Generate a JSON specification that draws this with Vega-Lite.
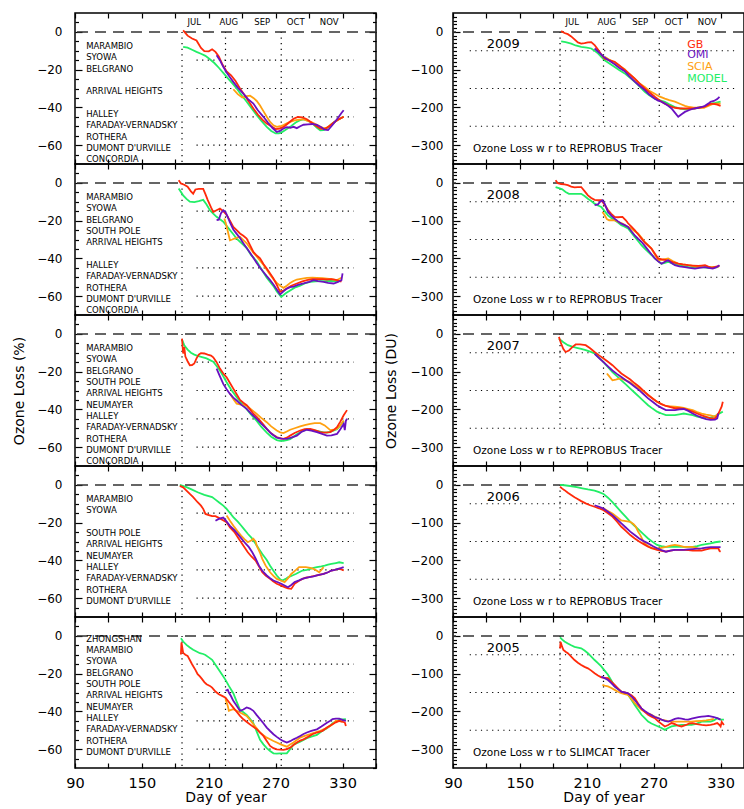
{
"$schema": "https://vega.github.io/schema/vega-lite/v6.json",
"background": "white",
"padding": {"left": 11, "top": 11, "right": 0, "bottom": 0},
"spacing": 5,
"config": {
  "view": {"stroke": "black", "strokeWidth": 1.5},
  "axis": {"domain": false, "grid": false, "tickColor": "black", "tickWidth": 1.2, "labelFont": "DejaVu Sans", "labelFontSize": 12, "labelColor": "black", "titleFont": "DejaVu Sans", "titleFontSize": 14, "titleFontWeight": "normal", "titleColor": "black", "labelOverlap": false, "labelFlush": false},
  "text": {"font": "DejaVu Sans", "color": "black"}
},
"datasets": {
  "zero": [{"value": 0}],
  "hlinesL": [{"value": -15}, {"value": -30}, {"value": -45}, {"value": -60}],
  "hlinesR": [{"value": -50}, {"value": -150}, {"value": -250}],
  "vlines": [{"day": 186}, {"day": 225}, {"day": 275}],
  "months": [{"name": "JUL", "day": 197}, {"name": "AUG", "day": 228}, {"name": "SEP", "day": 258}, {"name": "OCT", "day": 288}, {"name": "NOV", "day": 318}],
  "legend": [{"series": "GB", "value": -34}, {"series": "OMI", "value": -62}, {"series": "SCIA", "value": -93}, {"series": "MODEL", "value": -124}],
  "L2009": [
    {"series":"MODEL","day":187,"value":-8},{"series":"MODEL","day":191,"value":-8.4},{"series":"MODEL","day":195,"value":-9.5},{"series":"MODEL","day":199,"value":-10.6},{"series":"MODEL","day":203,"value":-11.6},{"series":"MODEL","day":207,"value":-12.7},{"series":"MODEL","day":211,"value":-14.5},{"series":"MODEL","day":215,"value":-16.5},{"series":"MODEL","day":219,"value":-19},{"series":"MODEL","day":223,"value":-21.7},{"series":"MODEL","day":227,"value":-24.5},{"series":"MODEL","day":231,"value":-27.2},{"series":"MODEL","day":235,"value":-30},{"series":"MODEL","day":240,"value":-34},{"series":"MODEL","day":244,"value":-37},{"series":"MODEL","day":249,"value":-41},{"series":"MODEL","day":253,"value":-44.1},{"series":"MODEL","day":257,"value":-47},{"series":"MODEL","day":262,"value":-50.3},{"series":"MODEL","day":266,"value":-52.5},{"series":"MODEL","day":270,"value":-53.8},{"series":"MODEL","day":273,"value":-53.8},{"series":"MODEL","day":276,"value":-53},{"series":"MODEL","day":280,"value":-51.5},{"series":"MODEL","day":284,"value":-49.8},{"series":"MODEL","day":288,"value":-48},{"series":"MODEL","day":292,"value":-46.8},{"series":"MODEL","day":295,"value":-46.3},{"series":"MODEL","day":299,"value":-47},{"series":"MODEL","day":303,"value":-48.6},{"series":"MODEL","day":307,"value":-50.8},{"series":"MODEL","day":310,"value":-52.1},{"series":"MODEL","day":313,"value":-52},{"series":"MODEL","day":316,"value":-51},{"series":"MODEL","day":319,"value":-49.5},{"series":"MODEL","day":322,"value":-48},{"series":"MODEL","day":326,"value":-46.5},{"series":"MODEL","day":331,"value":-45},
    {"series":"SCIA","day":232,"value":-30.4},{"series":"SCIA","day":236,"value":-33},{"series":"SCIA","day":240,"value":-34.8},{"series":"SCIA","day":244,"value":-34},{"series":"SCIA","day":247,"value":-33.8},{"series":"SCIA","day":250,"value":-35},{"series":"SCIA","day":253,"value":-36.6},{"series":"SCIA","day":256,"value":-39},{"series":"SCIA","day":259,"value":-42},{"series":"SCIA","day":262,"value":-45},{"series":"SCIA","day":265,"value":-47.7},{"series":"SCIA","day":268,"value":-49.5},{"series":"SCIA","day":271,"value":-50.3},{"series":"SCIA","day":274,"value":-50},{"series":"SCIA","day":277,"value":-49.4},{"series":"SCIA","day":280,"value":-48.5},{"series":"SCIA","day":283,"value":-47.7},{"series":"SCIA","day":287,"value":-46.9},{"series":"SCIA","day":291,"value":-46.5},{"series":"SCIA","day":295,"value":-46.3},{"series":"SCIA","day":298,"value":-47},{"series":"SCIA","day":302,"value":-47.8},{"series":"SCIA","day":306,"value":-49},{"series":"SCIA","day":310,"value":-50.3},{"series":"SCIA","day":313,"value":-51},{"series":"SCIA","day":316,"value":-50.7},{"series":"SCIA","day":319,"value":-49.5},{"series":"SCIA","day":322,"value":-48.2},{"series":"SCIA","day":326,"value":-46.5},{"series":"SCIA","day":331,"value":-45},
    {"series":"GB","day":187,"value":0.8},{"series":"GB","day":191,"value":-2},{"series":"GB","day":195,"value":-3.5},{"series":"GB","day":199,"value":-4.6},{"series":"GB","day":203,"value":-8.5},{"series":"GB","day":206,"value":-10.2},{"series":"GB","day":210,"value":-10.3},{"series":"GB","day":213,"value":-9.2},{"series":"GB","day":216,"value":-10.6},{"series":"GB","day":219,"value":-13},{"series":"GB","day":222,"value":-17},{"series":"GB","day":226,"value":-21},{"series":"GB","day":230,"value":-23},{"series":"GB","day":234,"value":-26},{"series":"GB","day":238,"value":-30},{"series":"GB","day":242,"value":-33.5},{"series":"GB","day":246,"value":-37},{"series":"GB","day":250,"value":-40.6},{"series":"GB","day":254,"value":-43.8},{"series":"GB","day":258,"value":-46.5},{"series":"GB","day":262,"value":-48.6},{"series":"GB","day":266,"value":-50},{"series":"GB","day":270,"value":-51.5},{"series":"GB","day":274,"value":-51.2},{"series":"GB","day":278,"value":-50},{"series":"GB","day":282,"value":-48},{"series":"GB","day":286,"value":-46},{"series":"GB","day":290,"value":-45},{"series":"GB","day":294,"value":-45.3},{"series":"GB","day":298,"value":-46.3},{"series":"GB","day":302,"value":-48},{"series":"GB","day":306,"value":-49.8},{"series":"GB","day":310,"value":-51.2},{"series":"GB","day":314,"value":-51.5},{"series":"GB","day":318,"value":-50},{"series":"GB","day":322,"value":-48},{"series":"GB","day":326,"value":-46.5},{"series":"GB","day":331,"value":-45},
    {"series":"OMI","day":217,"value":-12.4},{"series":"OMI","day":220,"value":-15},{"series":"OMI","day":223,"value":-18.5},{"series":"OMI","day":226,"value":-21.5},{"series":"OMI","day":229,"value":-24},{"series":"OMI","day":232,"value":-26.5},{"series":"OMI","day":236,"value":-29.5},{"series":"OMI","day":241,"value":-32.7},{"series":"OMI","day":245,"value":-35.5},{"series":"OMI","day":250,"value":-38},{"series":"OMI","day":254,"value":-41.5},{"series":"OMI","day":259,"value":-45},{"series":"OMI","day":263,"value":-48},{"series":"OMI","day":267,"value":-50.8},{"series":"OMI","day":271,"value":-53},{"series":"OMI","day":274,"value":-52.5},{"series":"OMI","day":277,"value":-51.2},{"series":"OMI","day":280,"value":-50.5},{"series":"OMI","day":283,"value":-50.8},{"series":"OMI","day":286,"value":-50.3},{"series":"OMI","day":289,"value":-51},{"series":"OMI","day":292,"value":-50},{"series":"OMI","day":295,"value":-49.2},{"series":"OMI","day":299,"value":-49},{"series":"OMI","day":303,"value":-48.8},{"series":"OMI","day":307,"value":-49.3},{"series":"OMI","day":311,"value":-50.5},{"series":"OMI","day":314,"value":-51.8},{"series":"OMI","day":317,"value":-52},{"series":"OMI","day":320,"value":-50},{"series":"OMI","day":323,"value":-47.8},{"series":"OMI","day":326,"value":-45.5},{"series":"OMI","day":329,"value":-43},{"series":"OMI","day":331,"value":-41.5}
  ],
  "R2009": [
    {"series":"MODEL","day":187,"value":-25},{"series":"MODEL","day":191,"value":-27},{"series":"MODEL","day":196,"value":-31},{"series":"MODEL","day":200,"value":-36},{"series":"MODEL","day":205,"value":-40},{"series":"MODEL","day":210,"value":-42},{"series":"MODEL","day":214,"value":-44},{"series":"MODEL","day":217,"value":-50},{"series":"MODEL","day":220,"value":-57},{"series":"MODEL","day":223,"value":-66},{"series":"MODEL","day":226,"value":-75},{"series":"MODEL","day":230,"value":-83},{"series":"MODEL","day":235,"value":-93},{"series":"MODEL","day":239,"value":-101},{"series":"MODEL","day":244,"value":-110},{"series":"MODEL","day":248,"value":-120},{"series":"MODEL","day":253,"value":-132},{"series":"MODEL","day":257,"value":-144},{"series":"MODEL","day":262,"value":-159},{"series":"MODEL","day":266,"value":-168},{"series":"MODEL","day":271,"value":-177},{"series":"MODEL","day":275,"value":-181},{"series":"MODEL","day":280,"value":-185},{"series":"MODEL","day":284,"value":-192},{"series":"MODEL","day":289,"value":-199},{"series":"MODEL","day":294,"value":-203},{"series":"MODEL","day":298,"value":-205},{"series":"MODEL","day":302,"value":-204},{"series":"MODEL","day":306,"value":-203},{"series":"MODEL","day":310,"value":-201},{"series":"MODEL","day":315,"value":-199},{"series":"MODEL","day":318,"value":-195},{"series":"MODEL","day":321,"value":-190},{"series":"MODEL","day":325,"value":-188},{"series":"MODEL","day":330,"value":-185},
    {"series":"SCIA","day":226,"value":-66},{"series":"SCIA","day":230,"value":-73},{"series":"SCIA","day":235,"value":-81},{"series":"SCIA","day":239,"value":-90},{"series":"SCIA","day":244,"value":-99},{"series":"SCIA","day":248,"value":-111},{"series":"SCIA","day":253,"value":-124},{"series":"SCIA","day":257,"value":-136},{"series":"SCIA","day":262,"value":-146},{"series":"SCIA","day":266,"value":-156},{"series":"SCIA","day":271,"value":-164},{"series":"SCIA","day":275,"value":-171},{"series":"SCIA","day":280,"value":-177},{"series":"SCIA","day":284,"value":-181},{"series":"SCIA","day":289,"value":-185},{"series":"SCIA","day":294,"value":-191},{"series":"SCIA","day":298,"value":-196},{"series":"SCIA","day":302,"value":-199},{"series":"SCIA","day":306,"value":-201},{"series":"SCIA","day":310,"value":-201},{"series":"SCIA","day":315,"value":-201},{"series":"SCIA","day":319,"value":-196},{"series":"SCIA","day":322,"value":-192},{"series":"SCIA","day":325,"value":-190},{"series":"SCIA","day":330,"value":-190},
    {"series":"GB","day":187,"value":2},{"series":"GB","day":190,"value":-3},{"series":"GB","day":193,"value":-6},{"series":"GB","day":196,"value":-12},{"series":"GB","day":199,"value":-20},{"series":"GB","day":202,"value":-28},{"series":"GB","day":205,"value":-31},{"series":"GB","day":208,"value":-30},{"series":"GB","day":211,"value":-28},{"series":"GB","day":214,"value":-27},{"series":"GB","day":217,"value":-35},{"series":"GB","day":220,"value":-47},{"series":"GB","day":223,"value":-60},{"series":"GB","day":226,"value":-71},{"series":"GB","day":230,"value":-75},{"series":"GB","day":235,"value":-79},{"series":"GB","day":239,"value":-88},{"series":"GB","day":244,"value":-101},{"series":"GB","day":248,"value":-111},{"series":"GB","day":253,"value":-124},{"series":"GB","day":257,"value":-136},{"series":"GB","day":262,"value":-150},{"series":"GB","day":266,"value":-160},{"series":"GB","day":271,"value":-172},{"series":"GB","day":275,"value":-181},{"series":"GB","day":280,"value":-190},{"series":"GB","day":284,"value":-196},{"series":"GB","day":289,"value":-201},{"series":"GB","day":294,"value":-203},{"series":"GB","day":298,"value":-203},{"series":"GB","day":302,"value":-203},{"series":"GB","day":306,"value":-203},{"series":"GB","day":310,"value":-201},{"series":"GB","day":315,"value":-199},{"series":"GB","day":318,"value":-195},{"series":"GB","day":321,"value":-190},{"series":"GB","day":324,"value":-191},{"series":"GB","day":327,"value":-193},{"series":"GB","day":330,"value":-196},
    {"series":"OMI","day":217,"value":-44},{"series":"OMI","day":220,"value":-52},{"series":"OMI","day":223,"value":-60},{"series":"OMI","day":226,"value":-68},{"series":"OMI","day":230,"value":-76},{"series":"OMI","day":235,"value":-86},{"series":"OMI","day":239,"value":-95},{"series":"OMI","day":244,"value":-104},{"series":"OMI","day":248,"value":-117},{"series":"OMI","day":253,"value":-132},{"series":"OMI","day":257,"value":-142},{"series":"OMI","day":262,"value":-154},{"series":"OMI","day":266,"value":-166},{"series":"OMI","day":271,"value":-177},{"series":"OMI","day":274,"value":-182},{"series":"OMI","day":277,"value":-185},{"series":"OMI","day":280,"value":-190},{"series":"OMI","day":283,"value":-196},{"series":"OMI","day":286,"value":-203},{"series":"OMI","day":289,"value":-214},{"series":"OMI","day":292,"value":-225},{"series":"OMI","day":295,"value":-218},{"series":"OMI","day":298,"value":-212},{"series":"OMI","day":302,"value":-207},{"series":"OMI","day":306,"value":-203},{"series":"OMI","day":310,"value":-201},{"series":"OMI","day":313,"value":-199},{"series":"OMI","day":316,"value":-196},{"series":"OMI","day":319,"value":-190},{"series":"OMI","day":321,"value":-185},{"series":"OMI","day":324,"value":-183},{"series":"OMI","day":327,"value":-178},{"series":"OMI","day":329,"value":-172}
  ],
  "L2008": [
    {"series":"MODEL","day":183,"value":-3},{"series":"MODEL","day":187,"value":-6.6},{"series":"MODEL","day":190,"value":-8.5},{"series":"MODEL","day":193,"value":-10},{"series":"MODEL","day":197,"value":-10.2},{"series":"MODEL","day":201,"value":-9.7},{"series":"MODEL","day":205,"value":-9},{"series":"MODEL","day":208,"value":-11.5},{"series":"MODEL","day":211,"value":-14.5},{"series":"MODEL","day":214,"value":-16.3},{"series":"MODEL","day":217,"value":-18},{"series":"MODEL","day":220,"value":-19.3},{"series":"MODEL","day":223,"value":-20.6},{"series":"MODEL","day":226,"value":-22.8},{"series":"MODEL","day":229,"value":-25},{"series":"MODEL","day":232,"value":-27.2},{"series":"MODEL","day":235,"value":-29.5},{"series":"MODEL","day":240,"value":-32.3},{"series":"MODEL","day":244,"value":-34.5},{"series":"MODEL","day":248,"value":-38.3},{"series":"MODEL","day":253,"value":-41.5},{"series":"MODEL","day":257,"value":-45.5},{"series":"MODEL","day":262,"value":-50.3},{"series":"MODEL","day":265,"value":-52.5},{"series":"MODEL","day":268,"value":-54.7},{"series":"MODEL","day":271,"value":-57.5},{"series":"MODEL","day":275,"value":-60.4},{"series":"MODEL","day":279,"value":-58.5},{"series":"MODEL","day":283,"value":-57},{"series":"MODEL","day":287,"value":-55.5},{"series":"MODEL","day":292,"value":-54.4},{"series":"MODEL","day":296,"value":-53.3},{"series":"MODEL","day":301,"value":-52.4},{"series":"MODEL","day":306,"value":-52.2},{"series":"MODEL","day":310,"value":-52},{"series":"MODEL","day":315,"value":-52},{"series":"MODEL","day":319,"value":-51.9},{"series":"MODEL","day":324,"value":-52},{"series":"MODEL","day":328,"value":-52},
    {"series":"SCIA","day":224,"value":-18.9},{"series":"SCIA","day":226,"value":-23},{"series":"SCIA","day":228,"value":-28},{"series":"SCIA","day":229,"value":-30.4},{"series":"SCIA","day":231,"value":-30},{"series":"SCIA","day":234,"value":-29.3},{"series":"SCIA","day":238,"value":-28.6},{"series":"SCIA","day":241,"value":-30.3},{"series":"SCIA","day":244,"value":-32},{"series":"SCIA","day":247,"value":-34.5},{"series":"SCIA","day":250,"value":-37},{"series":"SCIA","day":253,"value":-39},{"series":"SCIA","day":256,"value":-41.2},{"series":"SCIA","day":259,"value":-43.4},{"series":"SCIA","day":262,"value":-46},{"series":"SCIA","day":265,"value":-48.6},{"series":"SCIA","day":268,"value":-51},{"series":"SCIA","day":271,"value":-53},{"series":"SCIA","day":274,"value":-54.5},{"series":"SCIA","day":277,"value":-55.6},{"series":"SCIA","day":280,"value":-54.5},{"series":"SCIA","day":283,"value":-53},{"series":"SCIA","day":286,"value":-52},{"series":"SCIA","day":289,"value":-51.2},{"series":"SCIA","day":294,"value":-50.7},{"series":"SCIA","day":298,"value":-50.3},{"series":"SCIA","day":303,"value":-50.2},{"series":"SCIA","day":307,"value":-50.3},{"series":"SCIA","day":312,"value":-50.5},{"series":"SCIA","day":316,"value":-50.7},{"series":"SCIA","day":320,"value":-51},{"series":"SCIA","day":325,"value":-51.5},{"series":"SCIA","day":329,"value":-50.3},
    {"series":"GB","day":183,"value":1.4},{"series":"GB","day":185,"value":-0.3},{"series":"GB","day":188,"value":-1},{"series":"GB","day":191,"value":-2},{"series":"GB","day":194,"value":-4.5},{"series":"GB","day":196,"value":-5.7},{"series":"GB","day":198,"value":-3.5},{"series":"GB","day":201,"value":-3.2},{"series":"GB","day":205,"value":-3.2},{"series":"GB","day":207,"value":-6},{"series":"GB","day":209,"value":-9},{"series":"GB","day":212,"value":-13},{"series":"GB","day":214,"value":-15.4},{"series":"GB","day":217,"value":-14.5},{"series":"GB","day":220,"value":-13.6},{"series":"GB","day":223,"value":-15},{"series":"GB","day":226,"value":-17},{"series":"GB","day":229,"value":-20},{"series":"GB","day":232,"value":-23.3},{"series":"GB","day":235,"value":-25},{"series":"GB","day":238,"value":-26.8},{"series":"GB","day":241,"value":-28},{"series":"GB","day":244,"value":-29.5},{"series":"GB","day":247,"value":-33},{"series":"GB","day":250,"value":-36.6},{"series":"GB","day":253,"value":-38.5},{"series":"GB","day":256,"value":-40},{"series":"GB","day":259,"value":-43},{"series":"GB","day":262,"value":-45.4},{"series":"GB","day":265,"value":-48},{"series":"GB","day":268,"value":-50.7},{"series":"GB","day":271,"value":-54},{"series":"GB","day":274,"value":-57.7},{"series":"GB","day":277,"value":-57},{"series":"GB","day":280,"value":-56},{"series":"GB","day":284,"value":-54.5},{"series":"GB","day":289,"value":-53.3},{"series":"GB","day":294,"value":-52.2},{"series":"GB","day":298,"value":-51.5},{"series":"GB","day":303,"value":-51},{"series":"GB","day":307,"value":-51},{"series":"GB","day":312,"value":-51},{"series":"GB","day":316,"value":-51.2},{"series":"GB","day":320,"value":-51},{"series":"GB","day":325,"value":-51.5},{"series":"GB","day":329,"value":-52.4},
    {"series":"OMI","day":217,"value":-19.8},{"series":"OMI","day":219,"value":-19.5},{"series":"OMI","day":221,"value":-16},{"series":"OMI","day":223,"value":-14.5},{"series":"OMI","day":225,"value":-15.5},{"series":"OMI","day":227,"value":-18},{"series":"OMI","day":229,"value":-21},{"series":"OMI","day":232,"value":-24.7},{"series":"OMI","day":235,"value":-27},{"series":"OMI","day":238,"value":-29.2},{"series":"OMI","day":241,"value":-32},{"series":"OMI","day":244,"value":-34.5},{"series":"OMI","day":247,"value":-37},{"series":"OMI","day":250,"value":-39.7},{"series":"OMI","day":253,"value":-42.5},{"series":"OMI","day":256,"value":-45},{"series":"OMI","day":259,"value":-47.2},{"series":"OMI","day":262,"value":-49.4},{"series":"OMI","day":265,"value":-51.5},{"series":"OMI","day":268,"value":-53.8},{"series":"OMI","day":271,"value":-56.5},{"series":"OMI","day":274,"value":-59.1},{"series":"OMI","day":277,"value":-57.5},{"series":"OMI","day":280,"value":-56},{"series":"OMI","day":283,"value":-55.2},{"series":"OMI","day":286,"value":-55},{"series":"OMI","day":290,"value":-54},{"series":"OMI","day":295,"value":-53.3},{"series":"OMI","day":300,"value":-52.4},{"series":"OMI","day":304,"value":-51.5},{"series":"OMI","day":308,"value":-52},{"series":"OMI","day":313,"value":-52.4},{"series":"OMI","day":317,"value":-53},{"series":"OMI","day":322,"value":-53.3},{"series":"OMI","day":326,"value":-52.5},{"series":"OMI","day":329,"value":-51.5},{"series":"OMI","day":330,"value":-48}
  ],
  "R2008": [
    {"series":"MODEL","day":182,"value":-11},{"series":"MODEL","day":185,"value":-14},{"series":"MODEL","day":188,"value":-17},{"series":"MODEL","day":191,"value":-24},{"series":"MODEL","day":194,"value":-29},{"series":"MODEL","day":199,"value":-29},{"series":"MODEL","day":205,"value":-29},{"series":"MODEL","day":208,"value":-35},{"series":"MODEL","day":211,"value":-42},{"series":"MODEL","day":214,"value":-48},{"series":"MODEL","day":217,"value":-55},{"series":"MODEL","day":220,"value":-60},{"series":"MODEL","day":223,"value":-64},{"series":"MODEL","day":226,"value":-75},{"series":"MODEL","day":229,"value":-86},{"series":"MODEL","day":232,"value":-93},{"series":"MODEL","day":235,"value":-99},{"series":"MODEL","day":238,"value":-105},{"series":"MODEL","day":241,"value":-112},{"series":"MODEL","day":244,"value":-116},{"series":"MODEL","day":247,"value":-121},{"series":"MODEL","day":250,"value":-132},{"series":"MODEL","day":253,"value":-143},{"series":"MODEL","day":256,"value":-154},{"series":"MODEL","day":259,"value":-165},{"series":"MODEL","day":262,"value":-174},{"series":"MODEL","day":265,"value":-183},{"series":"MODEL","day":268,"value":-191},{"series":"MODEL","day":271,"value":-200},{"series":"MODEL","day":274,"value":-207},{"series":"MODEL","day":277,"value":-214},{"series":"MODEL","day":280,"value":-212},{"series":"MODEL","day":283,"value":-209},{"series":"MODEL","day":287,"value":-214},{"series":"MODEL","day":292,"value":-218},{"series":"MODEL","day":296,"value":-220},{"series":"MODEL","day":301,"value":-223},{"series":"MODEL","day":305,"value":-223},{"series":"MODEL","day":310,"value":-223},{"series":"MODEL","day":315,"value":-224},{"series":"MODEL","day":319,"value":-225},{"series":"MODEL","day":323,"value":-224},{"series":"MODEL","day":328,"value":-223},
    {"series":"SCIA","day":224,"value":-77},{"series":"SCIA","day":226,"value":-85},{"series":"SCIA","day":228,"value":-96},{"series":"SCIA","day":230,"value":-99},{"series":"SCIA","day":235,"value":-99},{"series":"SCIA","day":238,"value":-103},{"series":"SCIA","day":242,"value":-108},{"series":"SCIA","day":246,"value":-115},{"series":"SCIA","day":250,"value":-121},{"series":"SCIA","day":253,"value":-128},{"series":"SCIA","day":256,"value":-134},{"series":"SCIA","day":259,"value":-145},{"series":"SCIA","day":262,"value":-156},{"series":"SCIA","day":265,"value":-165},{"series":"SCIA","day":268,"value":-174},{"series":"SCIA","day":271,"value":-190},{"series":"SCIA","day":274,"value":-205},{"series":"SCIA","day":278,"value":-203},{"series":"SCIA","day":283,"value":-200},{"series":"SCIA","day":287,"value":-207},{"series":"SCIA","day":292,"value":-214},{"series":"SCIA","day":296,"value":-216},{"series":"SCIA","day":301,"value":-218},{"series":"SCIA","day":305,"value":-220},{"series":"SCIA","day":310,"value":-223},{"series":"SCIA","day":315,"value":-223},{"series":"SCIA","day":319,"value":-223},{"series":"SCIA","day":323,"value":-223},{"series":"SCIA","day":328,"value":-223},
    {"series":"GB","day":182,"value":7},{"series":"GB","day":184,"value":-1},{"series":"GB","day":187,"value":-3},{"series":"GB","day":190,"value":-4},{"series":"GB","day":193,"value":-6},{"series":"GB","day":196,"value":-10},{"series":"GB","day":199,"value":-12},{"series":"GB","day":202,"value":-11},{"series":"GB","day":205,"value":-11},{"series":"GB","day":208,"value":-22},{"series":"GB","day":211,"value":-33},{"series":"GB","day":214,"value":-40},{"series":"GB","day":217,"value":-45},{"series":"GB","day":220,"value":-46},{"series":"GB","day":223,"value":-46},{"series":"GB","day":226,"value":-58},{"series":"GB","day":229,"value":-72},{"series":"GB","day":232,"value":-82},{"series":"GB","day":235,"value":-90},{"series":"GB","day":238,"value":-91},{"series":"GB","day":242,"value":-90},{"series":"GB","day":245,"value":-99},{"series":"GB","day":247,"value":-107},{"series":"GB","day":250,"value":-116},{"series":"GB","day":253,"value":-125},{"series":"GB","day":256,"value":-136},{"series":"GB","day":259,"value":-147},{"series":"GB","day":262,"value":-158},{"series":"GB","day":265,"value":-166},{"series":"GB","day":268,"value":-174},{"series":"GB","day":271,"value":-187},{"series":"GB","day":274,"value":-200},{"series":"GB","day":278,"value":-203},{"series":"GB","day":283,"value":-205},{"series":"GB","day":287,"value":-210},{"series":"GB","day":292,"value":-214},{"series":"GB","day":296,"value":-216},{"series":"GB","day":301,"value":-218},{"series":"GB","day":305,"value":-219},{"series":"GB","day":310,"value":-220},{"series":"GB","day":313,"value":-219},{"series":"GB","day":316,"value":-218},{"series":"GB","day":319,"value":-222},{"series":"GB","day":322,"value":-225},{"series":"GB","day":326,"value":-222},{"series":"GB","day":329,"value":-220},
    {"series":"OMI","day":217,"value":-59},{"series":"OMI","day":220,"value":-57},{"series":"OMI","day":222,"value":-50},{"series":"OMI","day":224,"value":-46},{"series":"OMI","day":226,"value":-55},{"series":"OMI","day":229,"value":-77},{"series":"OMI","day":232,"value":-87},{"series":"OMI","day":235,"value":-95},{"series":"OMI","day":238,"value":-102},{"series":"OMI","day":241,"value":-108},{"series":"OMI","day":244,"value":-112},{"series":"OMI","day":247,"value":-117},{"series":"OMI","day":250,"value":-128},{"series":"OMI","day":253,"value":-139},{"series":"OMI","day":256,"value":-148},{"series":"OMI","day":259,"value":-156},{"series":"OMI","day":262,"value":-167},{"series":"OMI","day":265,"value":-178},{"series":"OMI","day":268,"value":-189},{"series":"OMI","day":271,"value":-200},{"series":"OMI","day":274,"value":-208},{"series":"OMI","day":277,"value":-214},{"series":"OMI","day":280,"value":-209},{"series":"OMI","day":283,"value":-205},{"series":"OMI","day":286,"value":-212},{"series":"OMI","day":289,"value":-218},{"series":"OMI","day":293,"value":-221},{"series":"OMI","day":298,"value":-223},{"series":"OMI","day":302,"value":-225},{"series":"OMI","day":307,"value":-227},{"series":"OMI","day":311,"value":-225},{"series":"OMI","day":316,"value":-223},{"series":"OMI","day":319,"value":-225},{"series":"OMI","day":323,"value":-227},{"series":"OMI","day":326,"value":-224},{"series":"OMI","day":329,"value":-218}
  ],
  "L2007": [
    {"series":"MODEL","day":186,"value":-3},{"series":"MODEL","day":188,"value":-6},{"series":"MODEL","day":191,"value":-8.3},{"series":"MODEL","day":194,"value":-10},{"series":"MODEL","day":197,"value":-11},{"series":"MODEL","day":200,"value":-11.6},{"series":"MODEL","day":204,"value":-12.3},{"series":"MODEL","day":208,"value":-13},{"series":"MODEL","day":211,"value":-13.9},{"series":"MODEL","day":214,"value":-14.8},{"series":"MODEL","day":217,"value":-17},{"series":"MODEL","day":220,"value":-19.4},{"series":"MODEL","day":223,"value":-22.5},{"series":"MODEL","day":226,"value":-25.6},{"series":"MODEL","day":230,"value":-29.5},{"series":"MODEL","day":235,"value":-33.6},{"series":"MODEL","day":239,"value":-36.5},{"series":"MODEL","day":244,"value":-39.9},{"series":"MODEL","day":248,"value":-42.8},{"series":"MODEL","day":253,"value":-46.1},{"series":"MODEL","day":257,"value":-49.2},{"series":"MODEL","day":262,"value":-52.3},{"series":"MODEL","day":266,"value":-54.5},{"series":"MODEL","day":271,"value":-56.3},{"series":"MODEL","day":274,"value":-56.7},{"series":"MODEL","day":277,"value":-56.7},{"series":"MODEL","day":280,"value":-56.3},{"series":"MODEL","day":283,"value":-55.8},{"series":"MODEL","day":286,"value":-54.5},{"series":"MODEL","day":289,"value":-53.2},{"series":"MODEL","day":294,"value":-51.5},{"series":"MODEL","day":298,"value":-50.5},{"series":"MODEL","day":303,"value":-51},{"series":"MODEL","day":307,"value":-51.4},{"series":"MODEL","day":312,"value":-52},{"series":"MODEL","day":316,"value":-52.3},{"series":"MODEL","day":320,"value":-51.7},{"series":"MODEL","day":325,"value":-50.5},{"series":"MODEL","day":328,"value":-48.5},{"series":"MODEL","day":331,"value":-46.1},
    {"series":"SCIA","day":229,"value":-31.6},{"series":"SCIA","day":232,"value":-34.5},{"series":"SCIA","day":235,"value":-37},{"series":"SCIA","day":239,"value":-37.5},{"series":"SCIA","day":244,"value":-38},{"series":"SCIA","day":248,"value":-40},{"series":"SCIA","day":253,"value":-42.4},{"series":"SCIA","day":257,"value":-44.5},{"series":"SCIA","day":262,"value":-46.8},{"series":"SCIA","day":266,"value":-49},{"series":"SCIA","day":271,"value":-51.2},{"series":"SCIA","day":274,"value":-52.2},{"series":"SCIA","day":277,"value":-52.6},{"series":"SCIA","day":280,"value":-51.7},{"series":"SCIA","day":283,"value":-50.8},{"series":"SCIA","day":287,"value":-50},{"series":"SCIA","day":292,"value":-49},{"series":"SCIA","day":296,"value":-48.3},{"series":"SCIA","day":301,"value":-47.7},{"series":"SCIA","day":305,"value":-47.3},{"series":"SCIA","day":310,"value":-47.3},{"series":"SCIA","day":314,"value":-48.5},{"series":"SCIA","day":319,"value":-51},{"series":"SCIA","day":322,"value":-50.8},{"series":"SCIA","day":325,"value":-50.3},{"series":"SCIA","day":328,"value":-48.5},{"series":"SCIA","day":331,"value":-45.9},
    {"series":"GB","day":186,"value":-2.5},{"series":"GB","day":187,"value":-10.4},{"series":"GB","day":188,"value":-7},{"series":"GB","day":189,"value":-12},{"series":"GB","day":191,"value":-14.5},{"series":"GB","day":193,"value":-16.6},{"series":"GB","day":195,"value":-16.5},{"series":"GB","day":197,"value":-15.7},{"series":"GB","day":199,"value":-13},{"series":"GB","day":201,"value":-11},{"series":"GB","day":203,"value":-10.2},{"series":"GB","day":206,"value":-10.4},{"series":"GB","day":209,"value":-11},{"series":"GB","day":212,"value":-11.5},{"series":"GB","day":214,"value":-12.4},{"series":"GB","day":217,"value":-15},{"series":"GB","day":220,"value":-18.4},{"series":"GB","day":223,"value":-21},{"series":"GB","day":226,"value":-23},{"series":"GB","day":229,"value":-26},{"series":"GB","day":232,"value":-29},{"series":"GB","day":235,"value":-32},{"series":"GB","day":238,"value":-35},{"series":"GB","day":241,"value":-36.5},{"series":"GB","day":244,"value":-37.8},{"series":"GB","day":247,"value":-40},{"series":"GB","day":250,"value":-42.3},{"series":"GB","day":253,"value":-44},{"series":"GB","day":256,"value":-45.9},{"series":"GB","day":259,"value":-48},{"series":"GB","day":262,"value":-50.3},{"series":"GB","day":265,"value":-52.2},{"series":"GB","day":268,"value":-53.6},{"series":"GB","day":271,"value":-54.7},{"series":"GB","day":274,"value":-55.3},{"series":"GB","day":277,"value":-55.6},{"series":"GB","day":280,"value":-55},{"series":"GB","day":283,"value":-53.9},{"series":"GB","day":287,"value":-52.5},{"series":"GB","day":292,"value":-51.2},{"series":"GB","day":296,"value":-50.5},{"series":"GB","day":301,"value":-50.3},{"series":"GB","day":305,"value":-51},{"series":"GB","day":310,"value":-52},{"series":"GB","day":314,"value":-52.3},{"series":"GB","day":319,"value":-52},{"series":"GB","day":322,"value":-51},{"series":"GB","day":325,"value":-49.4},{"series":"GB","day":328,"value":-46.5},{"series":"GB","day":331,"value":-43.1},{"series":"GB","day":334,"value":-40.4},
    {"series":"OMI","day":217,"value":-18.4},{"series":"OMI","day":220,"value":-22.5},{"series":"OMI","day":223,"value":-26.5},{"series":"OMI","day":226,"value":-29.3},{"series":"OMI","day":229,"value":-31.8},{"series":"OMI","day":232,"value":-33.8},{"series":"OMI","day":235,"value":-35.3},{"series":"OMI","day":239,"value":-37.5},{"series":"OMI","day":244,"value":-39.7},{"series":"OMI","day":248,"value":-42.3},{"series":"OMI","day":253,"value":-45},{"series":"OMI","day":257,"value":-47.5},{"series":"OMI","day":262,"value":-50.3},{"series":"OMI","day":266,"value":-52.8},{"series":"OMI","day":271,"value":-55},{"series":"OMI","day":275,"value":-55.5},{"series":"OMI","day":280,"value":-55.6},{"series":"OMI","day":284,"value":-55},{"series":"OMI","day":289,"value":-53.9},{"series":"OMI","day":293,"value":-52},{"series":"OMI","day":298,"value":-50.8},{"series":"OMI","day":302,"value":-51.2},{"series":"OMI","day":307,"value":-52},{"series":"OMI","day":311,"value":-52.8},{"series":"OMI","day":316,"value":-53.9},{"series":"OMI","day":320,"value":-53.8},{"series":"OMI","day":325,"value":-53},{"series":"OMI","day":328,"value":-50.5},{"series":"OMI","day":331,"value":-47.7},{"series":"OMI","day":332,"value":-51},{"series":"OMI","day":333,"value":-46},{"series":"OMI","day":334,"value":-45}
  ],
  "R2007": [
    {"series":"MODEL","day":185,"value":-13},{"series":"MODEL","day":189,"value":-22},{"series":"MODEL","day":193,"value":-30},{"series":"MODEL","day":197,"value":-34},{"series":"MODEL","day":201,"value":-37},{"series":"MODEL","day":205,"value":-40},{"series":"MODEL","day":209,"value":-43},{"series":"MODEL","day":213,"value":-47},{"series":"MODEL","day":217,"value":-52},{"series":"MODEL","day":221,"value":-63},{"series":"MODEL","day":225,"value":-75},{"series":"MODEL","day":229,"value":-88},{"series":"MODEL","day":233,"value":-101},{"series":"MODEL","day":237,"value":-112},{"series":"MODEL","day":241,"value":-123},{"series":"MODEL","day":245,"value":-134},{"series":"MODEL","day":249,"value":-145},{"series":"MODEL","day":253,"value":-156},{"series":"MODEL","day":257,"value":-167},{"series":"MODEL","day":261,"value":-178},{"series":"MODEL","day":265,"value":-189},{"series":"MODEL","day":269,"value":-198},{"series":"MODEL","day":273,"value":-206},{"series":"MODEL","day":277,"value":-211},{"series":"MODEL","day":281,"value":-215},{"series":"MODEL","day":285,"value":-215},{"series":"MODEL","day":289,"value":-215},{"series":"MODEL","day":293,"value":-213},{"series":"MODEL","day":297,"value":-211},{"series":"MODEL","day":301,"value":-213},{"series":"MODEL","day":305,"value":-215},{"series":"MODEL","day":309,"value":-219},{"series":"MODEL","day":313,"value":-222},{"series":"MODEL","day":317,"value":-222},{"series":"MODEL","day":321,"value":-222},{"series":"MODEL","day":325,"value":-218},{"series":"MODEL","day":329,"value":-211},{"series":"MODEL","day":332,"value":-206},
    {"series":"SCIA","day":228,"value":-105},{"series":"SCIA","day":230,"value":-112},{"series":"SCIA","day":233,"value":-123},{"series":"SCIA","day":236,"value":-121},{"series":"SCIA","day":240,"value":-118},{"series":"SCIA","day":244,"value":-122},{"series":"SCIA","day":249,"value":-128},{"series":"SCIA","day":253,"value":-137},{"series":"SCIA","day":257,"value":-145},{"series":"SCIA","day":261,"value":-153},{"series":"SCIA","day":265,"value":-162},{"series":"SCIA","day":269,"value":-171},{"series":"SCIA","day":273,"value":-180},{"series":"SCIA","day":277,"value":-186},{"series":"SCIA","day":281,"value":-191},{"series":"SCIA","day":285,"value":-192},{"series":"SCIA","day":289,"value":-193},{"series":"SCIA","day":293,"value":-194},{"series":"SCIA","day":297,"value":-196},{"series":"SCIA","day":301,"value":-199},{"series":"SCIA","day":305,"value":-202},{"series":"SCIA","day":309,"value":-207},{"series":"SCIA","day":313,"value":-211},{"series":"SCIA","day":317,"value":-214},{"series":"SCIA","day":321,"value":-216},{"series":"SCIA","day":325,"value":-219},{"series":"SCIA","day":328,"value":-211},
    {"series":"GB","day":185,"value":-8},{"series":"GB","day":187,"value":-26},{"series":"GB","day":189,"value":-40},{"series":"GB","day":191,"value":-48},{"series":"GB","day":194,"value":-44},{"series":"GB","day":197,"value":-35},{"series":"GB","day":200,"value":-28},{"series":"GB","day":204,"value":-28},{"series":"GB","day":209,"value":-30},{"series":"GB","day":213,"value":-38},{"series":"GB","day":217,"value":-48},{"series":"GB","day":221,"value":-57},{"series":"GB","day":225,"value":-65},{"series":"GB","day":229,"value":-74},{"series":"GB","day":233,"value":-83},{"series":"GB","day":237,"value":-94},{"series":"GB","day":241,"value":-105},{"series":"GB","day":245,"value":-113},{"series":"GB","day":249,"value":-121},{"series":"GB","day":253,"value":-131},{"series":"GB","day":257,"value":-140},{"series":"GB","day":261,"value":-151},{"series":"GB","day":265,"value":-162},{"series":"GB","day":269,"value":-171},{"series":"GB","day":273,"value":-180},{"series":"GB","day":277,"value":-186},{"series":"GB","day":281,"value":-191},{"series":"GB","day":285,"value":-194},{"series":"GB","day":289,"value":-197},{"series":"GB","day":293,"value":-197},{"series":"GB","day":297,"value":-198},{"series":"GB","day":301,"value":-202},{"series":"GB","day":305,"value":-206},{"series":"GB","day":309,"value":-211},{"series":"GB","day":313,"value":-216},{"series":"GB","day":317,"value":-220},{"series":"GB","day":321,"value":-224},{"series":"GB","day":325,"value":-223},{"series":"GB","day":327,"value":-218},{"series":"GB","day":329,"value":-205},{"series":"GB","day":331,"value":-192},{"series":"GB","day":332,"value":-180},
    {"series":"OMI","day":217,"value":-53},{"series":"OMI","day":221,"value":-64},{"series":"OMI","day":225,"value":-75},{"series":"OMI","day":229,"value":-86},{"series":"OMI","day":233,"value":-97},{"series":"OMI","day":237,"value":-106},{"series":"OMI","day":241,"value":-114},{"series":"OMI","day":245,"value":-123},{"series":"OMI","day":249,"value":-131},{"series":"OMI","day":253,"value":-140},{"series":"OMI","day":257,"value":-149},{"series":"OMI","day":261,"value":-160},{"series":"OMI","day":265,"value":-171},{"series":"OMI","day":269,"value":-180},{"series":"OMI","day":273,"value":-189},{"series":"OMI","day":277,"value":-196},{"series":"OMI","day":281,"value":-202},{"series":"OMI","day":285,"value":-202},{"series":"OMI","day":289,"value":-202},{"series":"OMI","day":293,"value":-200},{"series":"OMI","day":297,"value":-199},{"series":"OMI","day":301,"value":-204},{"series":"OMI","day":305,"value":-211},{"series":"OMI","day":309,"value":-217},{"series":"OMI","day":313,"value":-222},{"series":"OMI","day":317,"value":-226},{"series":"OMI","day":321,"value":-228},{"series":"OMI","day":325,"value":-227},{"series":"OMI","day":327,"value":-224},{"series":"OMI","day":328,"value":-211}
  ],
  "L2006": [
    {"series":"MODEL","day":184,"value":0},{"series":"MODEL","day":190,"value":-1.2},{"series":"MODEL","day":195,"value":-2.5},{"series":"MODEL","day":200,"value":-3.9},{"series":"MODEL","day":206,"value":-5.3},{"series":"MODEL","day":213,"value":-6.5},{"series":"MODEL","day":216,"value":-7.8},{"series":"MODEL","day":219,"value":-9.2},{"series":"MODEL","day":223,"value":-11},{"series":"MODEL","day":226,"value":-12.7},{"series":"MODEL","day":229,"value":-14.9},{"series":"MODEL","day":232,"value":-17.1},{"series":"MODEL","day":236,"value":-19.5},{"series":"MODEL","day":239,"value":-21.5},{"series":"MODEL","day":242,"value":-23.7},{"series":"MODEL","day":245,"value":-25.9},{"series":"MODEL","day":249,"value":-28.5},{"series":"MODEL","day":252,"value":-31.2},{"series":"MODEL","day":255,"value":-34},{"series":"MODEL","day":258,"value":-36.6},{"series":"MODEL","day":262,"value":-39.8},{"series":"MODEL","day":265,"value":-42.8},{"series":"MODEL","day":268,"value":-45.5},{"series":"MODEL","day":271,"value":-48},{"series":"MODEL","day":274,"value":-50},{"series":"MODEL","day":276,"value":-50.7},{"series":"MODEL","day":279,"value":-49.8},{"series":"MODEL","day":281,"value":-49},{"series":"MODEL","day":285,"value":-48},{"series":"MODEL","day":288,"value":-47.2},{"series":"MODEL","day":291,"value":-46.3},{"series":"MODEL","day":294,"value":-45.4},{"series":"MODEL","day":298,"value":-45},{"series":"MODEL","day":301,"value":-44.5},{"series":"MODEL","day":304,"value":-44},{"series":"MODEL","day":307,"value":-43.6},{"series":"MODEL","day":311,"value":-43.2},{"series":"MODEL","day":314,"value":-42.8},{"series":"MODEL","day":317,"value":-42.3},{"series":"MODEL","day":320,"value":-41.9},{"series":"MODEL","day":324,"value":-41.4},{"series":"MODEL","day":327,"value":-41},{"series":"MODEL","day":331,"value":-41.4},
    {"series":"SCIA","day":226,"value":-16.2},{"series":"SCIA","day":229,"value":-19},{"series":"SCIA","day":233,"value":-22.4},{"series":"SCIA","day":236,"value":-24.7},{"series":"SCIA","day":239,"value":-26.9},{"series":"SCIA","day":242,"value":-28.7},{"series":"SCIA","day":245,"value":-30.4},{"series":"SCIA","day":248,"value":-29.5},{"series":"SCIA","day":250,"value":-28.6},{"series":"SCIA","day":252,"value":-30},{"series":"SCIA","day":253,"value":-32.2},{"series":"SCIA","day":256,"value":-36},{"series":"SCIA","day":258,"value":-39.2},{"series":"SCIA","day":261,"value":-42.8},{"series":"SCIA","day":265,"value":-46.3},{"series":"SCIA","day":268,"value":-48.2},{"series":"SCIA","day":271,"value":-49.8},{"series":"SCIA","day":275,"value":-50.8},{"series":"SCIA","day":278,"value":-51.5},{"series":"SCIA","day":281,"value":-49.5},{"series":"SCIA","day":284,"value":-47.2},{"series":"SCIA","day":288,"value":-45.2},{"series":"SCIA","day":291,"value":-43.6},{"series":"SCIA","day":294,"value":-43.6},{"series":"SCIA","day":297,"value":-43.6},{"series":"SCIA","day":301,"value":-44},{"series":"SCIA","day":304,"value":-44.5},{"series":"SCIA","day":307,"value":-45.5},{"series":"SCIA","day":309,"value":-46.3},{"series":"SCIA","day":311,"value":-45},{"series":"SCIA","day":313,"value":-43.6},
    {"series":"GB","day":184,"value":-0.5},{"series":"GB","day":187,"value":-1.3},{"series":"GB","day":190,"value":-3},{"series":"GB","day":193,"value":-4.8},{"series":"GB","day":196,"value":-6.5},{"series":"GB","day":200,"value":-9.2},{"series":"GB","day":203,"value":-11},{"series":"GB","day":205,"value":-12.7},{"series":"GB","day":207,"value":-15.4},{"series":"GB","day":210,"value":-16},{"series":"GB","day":213,"value":-16.6},{"series":"GB","day":216,"value":-16.6},{"series":"GB","day":219,"value":-17.5},{"series":"GB","day":222,"value":-18.5},{"series":"GB","day":226,"value":-19.8},{"series":"GB","day":229,"value":-22.5},{"series":"GB","day":233,"value":-25},{"series":"GB","day":236,"value":-27.7},{"series":"GB","day":239,"value":-30.4},{"series":"GB","day":242,"value":-33},{"series":"GB","day":245,"value":-35.7},{"series":"GB","day":248,"value":-37.8},{"series":"GB","day":252,"value":-40.1},{"series":"GB","day":255,"value":-43.2},{"series":"GB","day":258,"value":-46.3},{"series":"GB","day":261,"value":-48},{"series":"GB","day":265,"value":-49.8},{"series":"GB","day":268,"value":-51.2},{"series":"GB","day":271,"value":-52.4},{"series":"GB","day":275,"value":-53.4},{"series":"GB","day":278,"value":-54.2},{"series":"GB","day":281,"value":-54.8},{"series":"GB","day":284,"value":-55.1},{"series":"GB","day":287,"value":-52.4},{"series":"GB","day":291,"value":-50.8},{"series":"GB","day":294,"value":-49.8},{"series":"GB","day":297,"value":-49.2},{"series":"GB","day":300,"value":-48.9},{"series":"GB","day":304,"value":-48.4},{"series":"GB","day":307,"value":-48},{"series":"GB","day":310,"value":-47.6},{"series":"GB","day":313,"value":-47.2},{"series":"GB","day":317,"value":-46.3},{"series":"GB","day":320,"value":-45.4},{"series":"GB","day":323,"value":-45},{"series":"GB","day":326,"value":-44.5},{"series":"GB","day":329,"value":-44.8},{"series":"GB","day":331,"value":-45.4},
    {"series":"OMI","day":216,"value":-19},{"series":"OMI","day":219,"value":-18},{"series":"OMI","day":223,"value":-17.3},{"series":"OMI","day":226,"value":-19.5},{"series":"OMI","day":229,"value":-21.7},{"series":"OMI","day":233,"value":-24},{"series":"OMI","day":236,"value":-26.1},{"series":"OMI","day":239,"value":-28.2},{"series":"OMI","day":242,"value":-30.4},{"series":"OMI","day":246,"value":-33},{"series":"OMI","day":249,"value":-35.7},{"series":"OMI","day":252,"value":-39},{"series":"OMI","day":255,"value":-42.8},{"series":"OMI","day":258,"value":-45.5},{"series":"OMI","day":262,"value":-48},{"series":"OMI","day":265,"value":-49.5},{"series":"OMI","day":268,"value":-50.7},{"series":"OMI","day":272,"value":-51.6},{"series":"OMI","day":275,"value":-52.4},{"series":"OMI","day":278,"value":-53.3},{"series":"OMI","day":281,"value":-54.2},{"series":"OMI","day":284,"value":-53},{"series":"OMI","day":287,"value":-51.5},{"series":"OMI","day":291,"value":-50.6},{"series":"OMI","day":294,"value":-49.8},{"series":"OMI","day":297,"value":-49.3},{"series":"OMI","day":300,"value":-48.9},{"series":"OMI","day":304,"value":-48.5},{"series":"OMI","day":307,"value":-48},{"series":"OMI","day":310,"value":-47.6},{"series":"OMI","day":313,"value":-47.2},{"series":"OMI","day":317,"value":-46.3},{"series":"OMI","day":320,"value":-45.4},{"series":"OMI","day":323,"value":-45},{"series":"OMI","day":326,"value":-44.5},{"series":"OMI","day":329,"value":-44},{"series":"OMI","day":331,"value":-43.6}
  ],
  "R2006": [
    {"series":"MODEL","day":186,"value":0},{"series":"MODEL","day":190,"value":-1},{"series":"MODEL","day":195,"value":-3},{"series":"MODEL","day":201,"value":-6},{"series":"MODEL","day":206,"value":-9},{"series":"MODEL","day":211,"value":-12},{"series":"MODEL","day":217,"value":-15},{"series":"MODEL","day":221,"value":-19},{"series":"MODEL","day":225,"value":-24},{"series":"MODEL","day":229,"value":-34},{"series":"MODEL","day":233,"value":-46},{"series":"MODEL","day":237,"value":-59},{"series":"MODEL","day":241,"value":-72},{"series":"MODEL","day":245,"value":-85},{"series":"MODEL","day":249,"value":-98},{"series":"MODEL","day":253,"value":-109},{"series":"MODEL","day":257,"value":-120},{"series":"MODEL","day":261,"value":-131},{"series":"MODEL","day":265,"value":-142},{"series":"MODEL","day":269,"value":-151},{"series":"MODEL","day":273,"value":-159},{"series":"MODEL","day":277,"value":-162},{"series":"MODEL","day":281,"value":-164},{"series":"MODEL","day":285,"value":-164},{"series":"MODEL","day":289,"value":-164},{"series":"MODEL","day":293,"value":-164},{"series":"MODEL","day":297,"value":-164},{"series":"MODEL","day":301,"value":-164},{"series":"MODEL","day":305,"value":-164},{"series":"MODEL","day":309,"value":-162},{"series":"MODEL","day":313,"value":-159},{"series":"MODEL","day":317,"value":-157},{"series":"MODEL","day":321,"value":-155},{"series":"MODEL","day":325,"value":-152},{"series":"MODEL","day":330,"value":-150},
    {"series":"SCIA","day":225,"value":-63},{"series":"SCIA","day":229,"value":-69},{"series":"SCIA","day":233,"value":-76},{"series":"SCIA","day":237,"value":-85},{"series":"SCIA","day":241,"value":-94},{"series":"SCIA","day":245,"value":-96},{"series":"SCIA","day":249,"value":-98},{"series":"SCIA","day":252,"value":-104},{"series":"SCIA","day":254,"value":-111},{"series":"SCIA","day":256,"value":-124},{"series":"SCIA","day":258,"value":-133},{"series":"SCIA","day":260,"value":-145},{"series":"SCIA","day":262,"value":-155},{"series":"SCIA","day":265,"value":-162},{"series":"SCIA","day":268,"value":-168},{"series":"SCIA","day":272,"value":-168},{"series":"SCIA","day":275,"value":-168},{"series":"SCIA","day":278,"value":-166},{"series":"SCIA","day":281,"value":-164},{"series":"SCIA","day":285,"value":-161},{"series":"SCIA","day":289,"value":-159},{"series":"SCIA","day":293,"value":-161},{"series":"SCIA","day":297,"value":-164},{"series":"SCIA","day":301,"value":-164},{"series":"SCIA","day":305,"value":-164},{"series":"SCIA","day":309,"value":-168},{"series":"SCIA","day":312,"value":-172},
    {"series":"GB","day":186,"value":-5},{"series":"GB","day":188,"value":-10},{"series":"GB","day":190,"value":-14},{"series":"GB","day":193,"value":-21},{"series":"GB","day":196,"value":-27},{"series":"GB","day":199,"value":-33},{"series":"GB","day":201,"value":-36},{"series":"GB","day":205,"value":-43},{"series":"GB","day":209,"value":-49},{"series":"GB","day":213,"value":-54},{"series":"GB","day":217,"value":-58},{"series":"GB","day":221,"value":-62},{"series":"GB","day":225,"value":-67},{"series":"GB","day":229,"value":-75},{"series":"GB","day":233,"value":-84},{"series":"GB","day":237,"value":-97},{"series":"GB","day":241,"value":-111},{"series":"GB","day":245,"value":-122},{"series":"GB","day":249,"value":-133},{"series":"GB","day":253,"value":-142},{"series":"GB","day":257,"value":-150},{"series":"GB","day":261,"value":-157},{"series":"GB","day":265,"value":-164},{"series":"GB","day":269,"value":-168},{"series":"GB","day":273,"value":-172},{"series":"GB","day":277,"value":-175},{"series":"GB","day":281,"value":-177},{"series":"GB","day":285,"value":-174},{"series":"GB","day":289,"value":-172},{"series":"GB","day":293,"value":-172},{"series":"GB","day":297,"value":-172},{"series":"GB","day":301,"value":-173},{"series":"GB","day":305,"value":-174},{"series":"GB","day":309,"value":-174},{"series":"GB","day":313,"value":-174},{"series":"GB","day":317,"value":-171},{"series":"GB","day":321,"value":-168},{"series":"GB","day":325,"value":-168},{"series":"GB","day":328,"value":-168},{"series":"GB","day":329,"value":-175},{"series":"GB","day":330,"value":-177},
    {"series":"OMI","day":217,"value":-54},{"series":"OMI","day":221,"value":-58},{"series":"OMI","day":225,"value":-63},{"series":"OMI","day":229,"value":-71},{"series":"OMI","day":233,"value":-80},{"series":"OMI","day":237,"value":-91},{"series":"OMI","day":241,"value":-102},{"series":"OMI","day":245,"value":-113},{"series":"OMI","day":249,"value":-124},{"series":"OMI","day":253,"value":-133},{"series":"OMI","day":257,"value":-142},{"series":"OMI","day":261,"value":-149},{"series":"OMI","day":265,"value":-155},{"series":"OMI","day":269,"value":-162},{"series":"OMI","day":273,"value":-168},{"series":"OMI","day":277,"value":-173},{"series":"OMI","day":281,"value":-177},{"series":"OMI","day":285,"value":-174},{"series":"OMI","day":289,"value":-172},{"series":"OMI","day":293,"value":-172},{"series":"OMI","day":297,"value":-172},{"series":"OMI","day":301,"value":-171},{"series":"OMI","day":305,"value":-170},{"series":"OMI","day":309,"value":-169},{"series":"OMI","day":313,"value":-168},{"series":"OMI","day":317,"value":-166},{"series":"OMI","day":321,"value":-165},{"series":"OMI","day":325,"value":-165},{"series":"OMI","day":330,"value":-165}
  ],
  "L2005": [
    {"series":"MODEL","day":185,"value":-1.2},{"series":"MODEL","day":187,"value":-3},{"series":"MODEL","day":190,"value":-4.8},{"series":"MODEL","day":193,"value":-6.2},{"series":"MODEL","day":196,"value":-7.4},{"series":"MODEL","day":199,"value":-8.3},{"series":"MODEL","day":202,"value":-9.2},{"series":"MODEL","day":205,"value":-9.6},{"series":"MODEL","day":207,"value":-10.1},{"series":"MODEL","day":210,"value":-11.4},{"series":"MODEL","day":213,"value":-12.7},{"series":"MODEL","day":216,"value":-15.3},{"series":"MODEL","day":219,"value":-18},{"series":"MODEL","day":222,"value":-20.6},{"series":"MODEL","day":225,"value":-23.3},{"series":"MODEL","day":228,"value":-26.5},{"series":"MODEL","day":232,"value":-30.4},{"series":"MODEL","day":235,"value":-34.8},{"series":"MODEL","day":238,"value":-39.2},{"series":"MODEL","day":241,"value":-40.5},{"series":"MODEL","day":244,"value":-41.9},{"series":"MODEL","day":247,"value":-44},{"series":"MODEL","day":250,"value":-46.3},{"series":"MODEL","day":253,"value":-50.7},{"series":"MODEL","day":256,"value":-55.1},{"series":"MODEL","day":259,"value":-57.5},{"series":"MODEL","day":262,"value":-59.5},{"series":"MODEL","day":265,"value":-61},{"series":"MODEL","day":268,"value":-62.2},{"series":"MODEL","day":271,"value":-62.4},{"series":"MODEL","day":274,"value":-62.2},{"series":"MODEL","day":277,"value":-62.2},{"series":"MODEL","day":280,"value":-62.2},{"series":"MODEL","day":283,"value":-60},{"series":"MODEL","day":286,"value":-57.7},{"series":"MODEL","day":289,"value":-56.8},{"series":"MODEL","day":292,"value":-56},{"series":"MODEL","day":295,"value":-55.1},{"series":"MODEL","day":298,"value":-54.2},{"series":"MODEL","day":302,"value":-53.4},{"series":"MODEL","day":307,"value":-52.5},{"series":"MODEL","day":311,"value":-50.7},{"series":"MODEL","day":316,"value":-48.9},{"series":"MODEL","day":319,"value":-47.5},{"series":"MODEL","day":321,"value":-46.3},{"series":"MODEL","day":324,"value":-45.4},{"series":"MODEL","day":327,"value":-44.5},{"series":"MODEL","day":330,"value":-44.2},{"series":"MODEL","day":333,"value":-44.1},
    {"series":"SCIA","day":225,"value":-33.5},{"series":"SCIA","day":227,"value":-37},{"series":"SCIA","day":228,"value":-39.7},{"series":"SCIA","day":230,"value":-39.2},{"series":"SCIA","day":232,"value":-38.8},{"series":"SCIA","day":235,"value":-39.7},{"series":"SCIA","day":238,"value":-40.6},{"series":"SCIA","day":241,"value":-41.5},{"series":"SCIA","day":244,"value":-42.4},{"series":"SCIA","day":247,"value":-44.6},{"series":"SCIA","day":250,"value":-46.8},{"series":"SCIA","day":253,"value":-49},{"series":"SCIA","day":256,"value":-51.2},{"series":"SCIA","day":259,"value":-52.6},{"series":"SCIA","day":262,"value":-53.9},{"series":"SCIA","day":265,"value":-54.8},{"series":"SCIA","day":268,"value":-55.7},{"series":"SCIA","day":271,"value":-56.5},{"series":"SCIA","day":275,"value":-57.6},{"series":"SCIA","day":280,"value":-58.7},{"series":"SCIA","day":283,"value":-57.6},{"series":"SCIA","day":286,"value":-56.5},{"series":"SCIA","day":289,"value":-55.2},{"series":"SCIA","day":292,"value":-53.9},{"series":"SCIA","day":296,"value":-53},{"series":"SCIA","day":301,"value":-52.1},{"series":"SCIA","day":305,"value":-51.2},{"series":"SCIA","day":310,"value":-50.3},{"series":"SCIA","day":315,"value":-49},{"series":"SCIA","day":319,"value":-47.7},{"series":"SCIA","day":322,"value":-46.3},{"series":"SCIA","day":324,"value":-45},{"series":"SCIA","day":327,"value":-45.2},{"series":"SCIA","day":330,"value":-45.5},
    {"series":"GB","day":185,"value":-9.9},{"series":"GB","day":185.5,"value":-3.5},{"series":"GB","day":187,"value":-9},{"series":"GB","day":189,"value":-10},{"series":"GB","day":191,"value":-10.6},{"series":"GB","day":193,"value":-12.8},{"series":"GB","day":195,"value":-15},{"series":"GB","day":198,"value":-18},{"series":"GB","day":200,"value":-20.3},{"series":"GB","day":202,"value":-21.5},{"series":"GB","day":204,"value":-22.9},{"series":"GB","day":206,"value":-24.5},{"series":"GB","day":208,"value":-25.6},{"series":"GB","day":211,"value":-26.5},{"series":"GB","day":213,"value":-27.4},{"series":"GB","day":216,"value":-29.5},{"series":"GB","day":219,"value":-30.9},{"series":"GB","day":222,"value":-31.8},{"series":"GB","day":225,"value":-32.7},{"series":"GB","day":228,"value":-35},{"series":"GB","day":232,"value":-38},{"series":"GB","day":235,"value":-40.2},{"series":"GB","day":238,"value":-42.4},{"series":"GB","day":241,"value":-44.2},{"series":"GB","day":245,"value":-46},{"series":"GB","day":249,"value":-47.8},{"series":"GB","day":253,"value":-49.4},{"series":"GB","day":256,"value":-51.2},{"series":"GB","day":259,"value":-53},{"series":"GB","day":262,"value":-55.7},{"series":"GB","day":265,"value":-58.3},{"series":"GB","day":268,"value":-59.5},{"series":"GB","day":271,"value":-60.1},{"series":"GB","day":274,"value":-60.3},{"series":"GB","day":277,"value":-60.4},{"series":"GB","day":280,"value":-60},{"series":"GB","day":283,"value":-59.2},{"series":"GB","day":286,"value":-57.8},{"series":"GB","day":289,"value":-56.5},{"series":"GB","day":292,"value":-55.5},{"series":"GB","day":295,"value":-54.8},{"series":"GB","day":299,"value":-53.5},{"series":"GB","day":303,"value":-52.1},{"series":"GB","day":307,"value":-51.2},{"series":"GB","day":312,"value":-50.3},{"series":"GB","day":316,"value":-48.5},{"series":"GB","day":321,"value":-46.8},{"series":"GB","day":324,"value":-45.8},{"series":"GB","day":327,"value":-45},{"series":"GB","day":330,"value":-45.5},{"series":"GB","day":332,"value":-45.9},{"series":"GB","day":333,"value":-47.7},
    {"series":"OMI","day":225,"value":-29.1},{"series":"OMI","day":227,"value":-28.5},{"series":"OMI","day":228,"value":-30},{"series":"OMI","day":230,"value":-32},{"series":"OMI","day":232,"value":-34.4},{"series":"OMI","day":235,"value":-37},{"series":"OMI","day":238,"value":-39.7},{"series":"OMI","day":241,"value":-39},{"series":"OMI","day":244,"value":-37.9},{"series":"OMI","day":247,"value":-38.5},{"series":"OMI","day":250,"value":-39.7},{"series":"OMI","day":253,"value":-42},{"series":"OMI","day":256,"value":-44.1},{"series":"OMI","day":259,"value":-46.3},{"series":"OMI","day":262,"value":-48.6},{"series":"OMI","day":265,"value":-50.4},{"series":"OMI","day":268,"value":-52.1},{"series":"OMI","day":271,"value":-53.5},{"series":"OMI","day":274,"value":-54.8},{"series":"OMI","day":277,"value":-55.8},{"series":"OMI","day":280,"value":-56.5},{"series":"OMI","day":283,"value":-55.8},{"series":"OMI","day":286,"value":-54.8},{"series":"OMI","day":289,"value":-54},{"series":"OMI","day":292,"value":-53},{"series":"OMI","day":295,"value":-52},{"series":"OMI","day":298,"value":-51.2},{"series":"OMI","day":302,"value":-50.3},{"series":"OMI","day":307,"value":-49.5},{"series":"OMI","day":311,"value":-48},{"series":"OMI","day":316,"value":-46},{"series":"OMI","day":319,"value":-45},{"series":"OMI","day":321,"value":-44.1},{"series":"OMI","day":324,"value":-43.8},{"series":"OMI","day":327,"value":-43.8},{"series":"OMI","day":330,"value":-44.5},{"series":"OMI","day":333,"value":-45}
  ],
  "R2005": [
    {"series":"MODEL","day":186,"value":-4},{"series":"MODEL","day":188,"value":-10},{"series":"MODEL","day":190,"value":-15},{"series":"MODEL","day":193,"value":-20},{"series":"MODEL","day":196,"value":-25},{"series":"MODEL","day":199,"value":-29},{"series":"MODEL","day":202,"value":-31},{"series":"MODEL","day":205,"value":-33},{"series":"MODEL","day":208,"value":-39},{"series":"MODEL","day":211,"value":-46},{"series":"MODEL","day":214,"value":-55},{"series":"MODEL","day":217,"value":-64},{"series":"MODEL","day":220,"value":-72},{"series":"MODEL","day":223,"value":-81},{"series":"MODEL","day":226,"value":-92},{"series":"MODEL","day":229,"value":-103},{"series":"MODEL","day":232,"value":-118},{"series":"MODEL","day":235,"value":-134},{"series":"MODEL","day":238,"value":-141},{"series":"MODEL","day":241,"value":-148},{"series":"MODEL","day":244,"value":-152},{"series":"MODEL","day":247,"value":-156},{"series":"MODEL","day":250,"value":-169},{"series":"MODEL","day":253,"value":-183},{"series":"MODEL","day":256,"value":-196},{"series":"MODEL","day":259,"value":-209},{"series":"MODEL","day":262,"value":-218},{"series":"MODEL","day":265,"value":-227},{"series":"MODEL","day":268,"value":-232},{"series":"MODEL","day":271,"value":-236},{"series":"MODEL","day":274,"value":-240},{"series":"MODEL","day":277,"value":-244},{"series":"MODEL","day":280,"value":-249},{"series":"MODEL","day":283,"value":-244},{"series":"MODEL","day":286,"value":-240},{"series":"MODEL","day":290,"value":-238},{"series":"MODEL","day":295,"value":-236},{"series":"MODEL","day":299,"value":-236},{"series":"MODEL","day":304,"value":-236},{"series":"MODEL","day":308,"value":-233},{"series":"MODEL","day":313,"value":-227},{"series":"MODEL","day":317,"value":-227},{"series":"MODEL","day":321,"value":-227},{"series":"MODEL","day":324,"value":-224},{"series":"MODEL","day":327,"value":-218},{"series":"MODEL","day":330,"value":-222},{"series":"MODEL","day":333,"value":-222},
    {"series":"SCIA","day":224,"value":-130},{"series":"SCIA","day":226,"value":-132},{"series":"SCIA","day":229,"value":-134},{"series":"SCIA","day":232,"value":-138},{"series":"SCIA","day":235,"value":-143},{"series":"SCIA","day":238,"value":-148},{"series":"SCIA","day":241,"value":-152},{"series":"SCIA","day":244,"value":-154},{"series":"SCIA","day":247,"value":-156},{"series":"SCIA","day":250,"value":-167},{"series":"SCIA","day":253,"value":-178},{"series":"SCIA","day":256,"value":-187},{"series":"SCIA","day":259,"value":-196},{"series":"SCIA","day":262,"value":-201},{"series":"SCIA","day":265,"value":-205},{"series":"SCIA","day":268,"value":-209},{"series":"SCIA","day":271,"value":-214},{"series":"SCIA","day":274,"value":-218},{"series":"SCIA","day":277,"value":-222},{"series":"SCIA","day":280,"value":-224},{"series":"SCIA","day":283,"value":-226},{"series":"SCIA","day":286,"value":-227},{"series":"SCIA","day":290,"value":-227},{"series":"SCIA","day":295,"value":-227},{"series":"SCIA","day":299,"value":-227},{"series":"SCIA","day":304,"value":-227},{"series":"SCIA","day":308,"value":-226},{"series":"SCIA","day":313,"value":-225},{"series":"SCIA","day":317,"value":-224},{"series":"SCIA","day":321,"value":-222},{"series":"SCIA","day":324,"value":-220},
    {"series":"GB","day":186,"value":-33},{"series":"GB","day":186.5,"value":-16},{"series":"GB","day":188,"value":-30},{"series":"GB","day":189,"value":-37},{"series":"GB","day":191,"value":-42},{"series":"GB","day":193,"value":-46},{"series":"GB","day":196,"value":-55},{"series":"GB","day":199,"value":-64},{"series":"GB","day":202,"value":-71},{"series":"GB","day":205,"value":-77},{"series":"GB","day":208,"value":-82},{"series":"GB","day":211,"value":-86},{"series":"GB","day":214,"value":-92},{"series":"GB","day":217,"value":-99},{"series":"GB","day":220,"value":-105},{"series":"GB","day":223,"value":-110},{"series":"GB","day":226,"value":-111},{"series":"GB","day":229,"value":-112},{"series":"GB","day":232,"value":-121},{"series":"GB","day":235,"value":-130},{"series":"GB","day":238,"value":-139},{"series":"GB","day":241,"value":-148},{"series":"GB","day":244,"value":-150},{"series":"GB","day":247,"value":-152},{"series":"GB","day":250,"value":-157},{"series":"GB","day":253,"value":-165},{"series":"GB","day":256,"value":-179},{"series":"GB","day":259,"value":-192},{"series":"GB","day":262,"value":-201},{"series":"GB","day":265,"value":-209},{"series":"GB","day":268,"value":-214},{"series":"GB","day":271,"value":-218},{"series":"GB","day":274,"value":-226},{"series":"GB","day":277,"value":-233},{"series":"GB","day":280,"value":-240},{"series":"GB","day":283,"value":-236},{"series":"GB","day":286,"value":-231},{"series":"GB","day":289,"value":-234},{"series":"GB","day":292,"value":-238},{"series":"GB","day":295,"value":-240},{"series":"GB","day":299,"value":-236},{"series":"GB","day":302,"value":-232},{"series":"GB","day":305,"value":-231},{"series":"GB","day":309,"value":-234},{"series":"GB","day":313,"value":-236},{"series":"GB","day":317,"value":-237},{"series":"GB","day":321,"value":-236},{"series":"GB","day":324,"value":-234},{"series":"GB","day":327,"value":-231},{"series":"GB","day":329,"value":-236},{"series":"GB","day":330,"value":-240},{"series":"GB","day":331,"value":-228},{"series":"GB","day":333,"value":-236},
    {"series":"OMI","day":223,"value":-108},{"series":"OMI","day":226,"value":-112},{"series":"OMI","day":229,"value":-117},{"series":"OMI","day":232,"value":-125},{"series":"OMI","day":235,"value":-134},{"series":"OMI","day":238,"value":-141},{"series":"OMI","day":241,"value":-148},{"series":"OMI","day":244,"value":-150},{"series":"OMI","day":247,"value":-152},{"series":"OMI","day":250,"value":-160},{"series":"OMI","day":253,"value":-170},{"series":"OMI","day":256,"value":-181},{"series":"OMI","day":259,"value":-192},{"series":"OMI","day":262,"value":-199},{"series":"OMI","day":265,"value":-205},{"series":"OMI","day":268,"value":-210},{"series":"OMI","day":271,"value":-215},{"series":"OMI","day":274,"value":-218},{"series":"OMI","day":277,"value":-222},{"series":"OMI","day":280,"value":-225},{"series":"OMI","day":283,"value":-227},{"series":"OMI","day":286,"value":-224},{"series":"OMI","day":289,"value":-220},{"series":"OMI","day":292,"value":-218},{"series":"OMI","day":295,"value":-219},{"series":"OMI","day":298,"value":-221},{"series":"OMI","day":301,"value":-222},{"series":"OMI","day":304,"value":-219},{"series":"OMI","day":307,"value":-217},{"series":"OMI","day":310,"value":-215},{"series":"OMI","day":313,"value":-214},{"series":"OMI","day":316,"value":-213},{"series":"OMI","day":319,"value":-212},{"series":"OMI","day":321,"value":-213},{"series":"OMI","day":324,"value":-215},{"series":"OMI","day":327,"value":-218},{"series":"OMI","day":330,"value":-222}
  ]
},
"hconcat": [
  {"bounds": "flush", "spacing": 0, "vconcat": [
    {"width": 301, "height": 151, "resolve": {"axis": {"x": "independent", "y": "independent"}},
     "layer": [
      {"data": {"name": "hlinesL"}, "mark": {"type": "rule", "strokeDash": [1.2, 4.4], "strokeWidth": 1.2, "color": "black"},
       "encoding": {"x": {"datum": 199, "type": "quantitative", "scale": {"domain": [90, 360], "nice": false, "zero": false}, "axis": {"orient": "top", "values": [90,120,150,180,210,240,270,300,330,360], "tickSize": -5, "labels": false, "title": null}}, "x2": {"datum": 340},
                    "y": {"field": "value", "type": "quantitative", "scale": {"domain": [-70, 10], "nice": false, "zero": false}, "axis": {"orient": "right", "values": [10,5,0,-5,-10,-15,-20,-25,-30,-35,-40,-45,-50,-55,-60,-65,-70], "tickSize": {"condition": {"test": "datum.value % 20 === 0", "value": -7}, "value": -3.5}, "labels": false, "title": null}}}},
      {"data": {"name": "vlines"}, "mark": {"type": "rule", "strokeDash": [1.2, 4.4], "strokeWidth": 1.2, "color": "black"},
       "encoding": {"x": {"field": "day", "type": "quantitative", "scale": {"domain": [90, 360], "nice": false, "zero": false}, "axis": null}, "y": {"datum": 0, "type": "quantitative", "scale": {"domain": [-70, 10], "nice": false, "zero": false}, "axis": null}, "y2": {"datum": -70}}},
      {"data": {"name": "zero"}, "mark": {"type": "rule", "strokeDash": [11, 7], "strokeWidth": 1.5, "color": "#333"},
       "encoding": {"y": {"field": "value", "type": "quantitative", "scale": {"domain": [-70, 10], "nice": false, "zero": false}, "axis": null}}},
      {"data": {"values": [{"name": "MARAMBIO", "value": -7.5}, {"name": "SYOWA", "value": -13.5}, {"name": "BELGRANO", "value": -19.5}, {"name": "ARRIVAL HEIGHTS", "value": -31.5}, {"name": "HALLEY", "value": -43.5}, {"name": "FARADAY-VERNADSKY", "value": -49.5}, {"name": "ROTHERA", "value": -55.5}, {"name": "DUMONT D'URVILLE", "value": -61.5}, {"name": "CONÇORDIA", "value": -67.5}]},
       "mark": {"type": "text", "align": "left", "baseline": "middle", "fontSize": 8.5},
       "encoding": {"x": {"datum": 100, "type": "quantitative", "scale": {"domain": [90, 360], "nice": false, "zero": false}, "axis": null}, "y": {"field": "value", "type": "quantitative", "scale": {"domain": [-70, 10], "nice": false, "zero": false}, "axis": null}, "text": {"field": "name"}}},
      {"data": {"name": "months"}, "mark": {"type": "text", "align": "center", "baseline": "middle", "fontSize": 8.5},
       "encoding": {"x": {"field": "day", "type": "quantitative", "scale": {"domain": [90, 360], "nice": false, "zero": false}, "axis": null}, "y": {"datum": 5.3, "type": "quantitative", "scale": {"domain": [-70, 10], "nice": false, "zero": false}, "axis": null}, "text": {"field": "name"}}},
      {"data": {"name": "L2009"}, "mark": {"type": "line", "strokeWidth": 1.8},
       "encoding": {"x": {"field": "day", "type": "quantitative", "scale": {"domain": [90, 360], "nice": false, "zero": false}, "axis": {"orient": "bottom", "values": [90,120,150,180,210,240,270,300,330,360], "tickSize": -5, "labels": false, "title": null}},
                    "y": {"field": "value", "type": "quantitative", "scale": {"domain": [-70, 10], "nice": false, "zero": false}, "axis": {"orient": "left", "values": [5,0,-5,-10,-15,-20,-25,-30,-35,-40,-45,-50,-55,-60,-65], "tickSize": {"condition": {"test": "datum.value % 20 === 0", "value": -7}, "value": -3.5}, "labelFontSize": {"condition": {"test": "datum.value % 20 === 0", "value": 12}, "value": 1}, "labelExpr": "datum.value % 20 === 0 ? datum.label : ''", "labelPadding": 20, "title": null}},
                    "color": {"field": "series", "type": "nominal", "scale": {"domain": ["GB", "OMI", "SCIA", "MODEL"], "range": ["#FF2A0A", "#6A10C0", "#FFA010", "#22EE66"]}, "legend": null}}}
     ]},
    {"width": 301, "height": 151, "resolve": {"axis": {"x": "independent", "y": "independent"}},
     "layer": [
      {"data": {"name": "hlinesL"}, "mark": {"type": "rule", "strokeDash": [1.2, 4.4], "strokeWidth": 1.2, "color": "black"},
       "encoding": {"x": {"datum": 199, "type": "quantitative", "scale": {"domain": [90, 360], "nice": false, "zero": false}, "axis": {"orient": "top", "values": [90,120,150,180,210,240,270,300,330,360], "tickSize": -5, "labels": false, "title": null}}, "x2": {"datum": 340},
                    "y": {"field": "value", "type": "quantitative", "scale": {"domain": [-70, 10], "nice": false, "zero": false}, "axis": {"orient": "right", "values": [10,5,0,-5,-10,-15,-20,-25,-30,-35,-40,-45,-50,-55,-60,-65,-70], "tickSize": {"condition": {"test": "datum.value % 20 === 0", "value": -7}, "value": -3.5}, "labels": false, "title": null}}}},
      {"data": {"name": "vlines"}, "mark": {"type": "rule", "strokeDash": [1.2, 4.4], "strokeWidth": 1.2, "color": "black"},
       "encoding": {"x": {"field": "day", "type": "quantitative", "scale": {"domain": [90, 360], "nice": false, "zero": false}, "axis": null}, "y": {"datum": 0, "type": "quantitative", "scale": {"domain": [-70, 10], "nice": false, "zero": false}, "axis": null}, "y2": {"datum": -70}}},
      {"data": {"name": "zero"}, "mark": {"type": "rule", "strokeDash": [11, 7], "strokeWidth": 1.5, "color": "#333"},
       "encoding": {"y": {"field": "value", "type": "quantitative", "scale": {"domain": [-70, 10], "nice": false, "zero": false}, "axis": null}}},
      {"data": {"values": [{"name": "MARAMBIO", "value": -7.5}, {"name": "SYOWA", "value": -13.5}, {"name": "BELGRANO", "value": -19.5}, {"name": "SOUTH POLE", "value": -25.5}, {"name": "ARRIVAL HEIGHTS", "value": -31.5}, {"name": "HALLEY", "value": -43.5}, {"name": "FARADAY-VERNADSKY", "value": -49.5}, {"name": "ROTHERA", "value": -55.5}, {"name": "DUMONT D'URVILLE", "value": -61.5}, {"name": "CONÇORDIA", "value": -67.5}]},
       "mark": {"type": "text", "align": "left", "baseline": "middle", "fontSize": 8.5},
       "encoding": {"x": {"datum": 100, "type": "quantitative", "scale": {"domain": [90, 360], "nice": false, "zero": false}, "axis": null}, "y": {"field": "value", "type": "quantitative", "scale": {"domain": [-70, 10], "nice": false, "zero": false}, "axis": null}, "text": {"field": "name"}}},
      {"data": {"name": "L2008"}, "mark": {"type": "line", "strokeWidth": 1.8},
       "encoding": {"x": {"field": "day", "type": "quantitative", "scale": {"domain": [90, 360], "nice": false, "zero": false}, "axis": {"orient": "bottom", "values": [90,120,150,180,210,240,270,300,330,360], "tickSize": -5, "labels": false, "title": null}},
                    "y": {"field": "value", "type": "quantitative", "scale": {"domain": [-70, 10], "nice": false, "zero": false}, "axis": {"orient": "left", "values": [5,0,-5,-10,-15,-20,-25,-30,-35,-40,-45,-50,-55,-60,-65], "tickSize": {"condition": {"test": "datum.value % 20 === 0", "value": -7}, "value": -3.5}, "labelFontSize": {"condition": {"test": "datum.value % 20 === 0", "value": 12}, "value": 1}, "labelExpr": "datum.value % 20 === 0 ? datum.label : ''", "labelPadding": 20, "title": null}},
                    "color": {"field": "series", "type": "nominal", "scale": {"domain": ["GB", "OMI", "SCIA", "MODEL"], "range": ["#FF2A0A", "#6A10C0", "#FFA010", "#22EE66"]}, "legend": null}}}
     ]},
    {"width": 301, "height": 151, "resolve": {"axis": {"x": "independent", "y": "independent"}},
     "layer": [
      {"data": {"name": "hlinesL"}, "mark": {"type": "rule", "strokeDash": [1.2, 4.4], "strokeWidth": 1.2, "color": "black"},
       "encoding": {"x": {"datum": 199, "type": "quantitative", "scale": {"domain": [90, 360], "nice": false, "zero": false}, "axis": {"orient": "top", "values": [90,120,150,180,210,240,270,300,330,360], "tickSize": -5, "labels": false, "title": null}}, "x2": {"datum": 340},
                    "y": {"field": "value", "type": "quantitative", "scale": {"domain": [-70, 10], "nice": false, "zero": false}, "axis": {"orient": "right", "values": [10,5,0,-5,-10,-15,-20,-25,-30,-35,-40,-45,-50,-55,-60,-65,-70], "tickSize": {"condition": {"test": "datum.value % 20 === 0", "value": -7}, "value": -3.5}, "labels": false, "title": null}}}},
      {"data": {"name": "vlines"}, "mark": {"type": "rule", "strokeDash": [1.2, 4.4], "strokeWidth": 1.2, "color": "black"},
       "encoding": {"x": {"field": "day", "type": "quantitative", "scale": {"domain": [90, 360], "nice": false, "zero": false}, "axis": null}, "y": {"datum": 0, "type": "quantitative", "scale": {"domain": [-70, 10], "nice": false, "zero": false}, "axis": null}, "y2": {"datum": -70}}},
      {"data": {"name": "zero"}, "mark": {"type": "rule", "strokeDash": [11, 7], "strokeWidth": 1.5, "color": "#333"},
       "encoding": {"y": {"field": "value", "type": "quantitative", "scale": {"domain": [-70, 10], "nice": false, "zero": false}, "axis": null}}},
      {"data": {"values": [{"name": "MARAMBIO", "value": -7.5}, {"name": "SYOWA", "value": -13.5}, {"name": "BELGRANO", "value": -19.5}, {"name": "SOUTH POLE", "value": -25.5}, {"name": "ARRIVAL HEIGHTS", "value": -31.5}, {"name": "NEUMAYER", "value": -37.5}, {"name": "HALLEY", "value": -43.5}, {"name": "FARADAY-VERNADSKY", "value": -49.5}, {"name": "ROTHERA", "value": -55.5}, {"name": "DUMONT D'URVILLE", "value": -61.5}, {"name": "CONÇORDIA", "value": -67.5}]},
       "mark": {"type": "text", "align": "left", "baseline": "middle", "fontSize": 8.5},
       "encoding": {"x": {"datum": 100, "type": "quantitative", "scale": {"domain": [90, 360], "nice": false, "zero": false}, "axis": null}, "y": {"field": "value", "type": "quantitative", "scale": {"domain": [-70, 10], "nice": false, "zero": false}, "axis": null}, "text": {"field": "name"}}},
      {"data": {"name": "L2007"}, "mark": {"type": "line", "strokeWidth": 1.8},
       "encoding": {"x": {"field": "day", "type": "quantitative", "scale": {"domain": [90, 360], "nice": false, "zero": false}, "axis": {"orient": "bottom", "values": [90,120,150,180,210,240,270,300,330,360], "tickSize": -5, "labels": false, "title": null}},
                    "y": {"field": "value", "type": "quantitative", "scale": {"domain": [-70, 10], "nice": false, "zero": false}, "axis": {"orient": "left", "values": [5,0,-5,-10,-15,-20,-25,-30,-35,-40,-45,-50,-55,-60,-65], "tickSize": {"condition": {"test": "datum.value % 20 === 0", "value": -7}, "value": -3.5}, "labelFontSize": {"condition": {"test": "datum.value % 20 === 0", "value": 12}, "value": 1}, "labelExpr": "datum.value % 20 === 0 ? datum.label : ''", "labelPadding": 20, "title": "Ozone Loss (%)", "titlePadding": 10}},
                    "color": {"field": "series", "type": "nominal", "scale": {"domain": ["GB", "OMI", "SCIA", "MODEL"], "range": ["#FF2A0A", "#6A10C0", "#FFA010", "#22EE66"]}, "legend": null}}}
     ]},
    {"width": 301, "height": 151, "resolve": {"axis": {"x": "independent", "y": "independent"}},
     "layer": [
      {"data": {"name": "hlinesL"}, "mark": {"type": "rule", "strokeDash": [1.2, 4.4], "strokeWidth": 1.2, "color": "black"},
       "encoding": {"x": {"datum": 199, "type": "quantitative", "scale": {"domain": [90, 360], "nice": false, "zero": false}, "axis": {"orient": "top", "values": [90,120,150,180,210,240,270,300,330,360], "tickSize": -5, "labels": false, "title": null}}, "x2": {"datum": 340},
                    "y": {"field": "value", "type": "quantitative", "scale": {"domain": [-70, 10], "nice": false, "zero": false}, "axis": {"orient": "right", "values": [10,5,0,-5,-10,-15,-20,-25,-30,-35,-40,-45,-50,-55,-60,-65,-70], "tickSize": {"condition": {"test": "datum.value % 20 === 0", "value": -7}, "value": -3.5}, "labels": false, "title": null}}}},
      {"data": {"name": "vlines"}, "mark": {"type": "rule", "strokeDash": [1.2, 4.4], "strokeWidth": 1.2, "color": "black"},
       "encoding": {"x": {"field": "day", "type": "quantitative", "scale": {"domain": [90, 360], "nice": false, "zero": false}, "axis": null}, "y": {"datum": 0, "type": "quantitative", "scale": {"domain": [-70, 10], "nice": false, "zero": false}, "axis": null}, "y2": {"datum": -70}}},
      {"data": {"name": "zero"}, "mark": {"type": "rule", "strokeDash": [11, 7], "strokeWidth": 1.5, "color": "#333"},
       "encoding": {"y": {"field": "value", "type": "quantitative", "scale": {"domain": [-70, 10], "nice": false, "zero": false}, "axis": null}}},
      {"data": {"values": [{"name": "MARAMBIO", "value": -7.5}, {"name": "SYOWA", "value": -13.5}, {"name": "SOUTH POLE", "value": -25.5}, {"name": "ARRIVAL HEIGHTS", "value": -31.5}, {"name": "NEUMAYER", "value": -37.5}, {"name": "HALLEY", "value": -43.5}, {"name": "FARADAY-VERNADSKY", "value": -49.5}, {"name": "ROTHERA", "value": -55.5}, {"name": "DUMONT D'URVILLE", "value": -61.5}]},
       "mark": {"type": "text", "align": "left", "baseline": "middle", "fontSize": 8.5},
       "encoding": {"x": {"datum": 100, "type": "quantitative", "scale": {"domain": [90, 360], "nice": false, "zero": false}, "axis": null}, "y": {"field": "value", "type": "quantitative", "scale": {"domain": [-70, 10], "nice": false, "zero": false}, "axis": null}, "text": {"field": "name"}}},
      {"data": {"name": "L2006"}, "mark": {"type": "line", "strokeWidth": 1.8},
       "encoding": {"x": {"field": "day", "type": "quantitative", "scale": {"domain": [90, 360], "nice": false, "zero": false}, "axis": {"orient": "bottom", "values": [90,120,150,180,210,240,270,300,330,360], "tickSize": -5, "labels": false, "title": null}},
                    "y": {"field": "value", "type": "quantitative", "scale": {"domain": [-70, 10], "nice": false, "zero": false}, "axis": {"orient": "left", "values": [5,0,-5,-10,-15,-20,-25,-30,-35,-40,-45,-50,-55,-60,-65], "tickSize": {"condition": {"test": "datum.value % 20 === 0", "value": -7}, "value": -3.5}, "labelFontSize": {"condition": {"test": "datum.value % 20 === 0", "value": 12}, "value": 1}, "labelExpr": "datum.value % 20 === 0 ? datum.label : ''", "labelPadding": 20, "title": null}},
                    "color": {"field": "series", "type": "nominal", "scale": {"domain": ["GB", "OMI", "SCIA", "MODEL"], "range": ["#FF2A0A", "#6A10C0", "#FFA010", "#22EE66"]}, "legend": null}}}
     ]},
    {"width": 301, "height": 151, "resolve": {"axis": {"x": "independent", "y": "independent"}},
     "layer": [
      {"data": {"name": "hlinesL"}, "mark": {"type": "rule", "strokeDash": [1.2, 4.4], "strokeWidth": 1.2, "color": "black"},
       "encoding": {"x": {"datum": 199, "type": "quantitative", "scale": {"domain": [90, 360], "nice": false, "zero": false}, "axis": {"orient": "top", "values": [90,120,150,180,210,240,270,300,330,360], "tickSize": -5, "labels": false, "title": null}}, "x2": {"datum": 340},
                    "y": {"field": "value", "type": "quantitative", "scale": {"domain": [-70, 10], "nice": false, "zero": false}, "axis": {"orient": "right", "values": [10,5,0,-5,-10,-15,-20,-25,-30,-35,-40,-45,-50,-55,-60,-65,-70], "tickSize": {"condition": {"test": "datum.value % 20 === 0", "value": -7}, "value": -3.5}, "labels": false, "title": null}}}},
      {"data": {"name": "vlines"}, "mark": {"type": "rule", "strokeDash": [1.2, 4.4], "strokeWidth": 1.2, "color": "black"},
       "encoding": {"x": {"field": "day", "type": "quantitative", "scale": {"domain": [90, 360], "nice": false, "zero": false}, "axis": null}, "y": {"datum": 0, "type": "quantitative", "scale": {"domain": [-70, 10], "nice": false, "zero": false}, "axis": null}, "y2": {"datum": -70}}},
      {"data": {"name": "zero"}, "mark": {"type": "rule", "strokeDash": [11, 7], "strokeWidth": 1.5, "color": "#333"},
       "encoding": {"y": {"field": "value", "type": "quantitative", "scale": {"domain": [-70, 10], "nice": false, "zero": false}, "axis": null}}},
      {"data": {"values": [{"name": "ZHONGSHAN", "value": -1.5}, {"name": "MARAMBIO", "value": -7.5}, {"name": "SYOWA", "value": -13.5}, {"name": "BELGRANO", "value": -19.5}, {"name": "SOUTH POLE", "value": -25.5}, {"name": "ARRIVAL HEIGHTS", "value": -31.5}, {"name": "NEUMAYER", "value": -37.5}, {"name": "HALLEY", "value": -43.5}, {"name": "FARADAY-VERNADSKY", "value": -49.5}, {"name": "ROTHERA", "value": -55.5}, {"name": "DUMONT D'URVILLE", "value": -61.5}]},
       "mark": {"type": "text", "align": "left", "baseline": "middle", "fontSize": 8.5},
       "encoding": {"x": {"datum": 100, "type": "quantitative", "scale": {"domain": [90, 360], "nice": false, "zero": false}, "axis": null}, "y": {"field": "value", "type": "quantitative", "scale": {"domain": [-70, 10], "nice": false, "zero": false}, "axis": null}, "text": {"field": "name"}}},
      {"data": {"name": "L2005"}, "mark": {"type": "line", "strokeWidth": 1.8},
       "encoding": {"x": {"field": "day", "type": "quantitative", "scale": {"domain": [90, 360], "nice": false, "zero": false}, "axis": {"orient": "bottom", "values": [90,120,150,180,210,240,270,300,330,360], "tickSize": -5, "labelExpr": "(datum.value - 90) % 60 === 0 ? datum.label : ''", "labelFontSize": 14.5, "labelPadding": 13, "title": "Day of year", "titlePadding": 1}},
                    "y": {"field": "value", "type": "quantitative", "scale": {"domain": [-70, 10], "nice": false, "zero": false}, "axis": {"orient": "left", "values": [5,0,-5,-10,-15,-20,-25,-30,-35,-40,-45,-50,-55,-60,-65], "tickSize": {"condition": {"test": "datum.value % 20 === 0", "value": -7}, "value": -3.5}, "labelFontSize": {"condition": {"test": "datum.value % 20 === 0", "value": 12}, "value": 1}, "labelExpr": "datum.value % 20 === 0 ? datum.label : ''", "labelPadding": 20, "title": null}},
                    "color": {"field": "series", "type": "nominal", "scale": {"domain": ["GB", "OMI", "SCIA", "MODEL"], "range": ["#FF2A0A", "#6A10C0", "#FFA010", "#22EE66"]}, "legend": null}}}
     ]}
  ]},
  {"bounds": "flush", "spacing": 0, "vconcat": [
    {"width": 291, "height": 151, "resolve": {"axis": {"x": "independent", "y": "independent"}},
     "layer": [
      {"data": {"name": "hlinesR"}, "mark": {"type": "rule", "strokeDash": [1.2, 4.4], "strokeWidth": 1.2, "color": "black"},
       "encoding": {"x": {"datum": 105, "type": "quantitative", "scale": {"domain": [90, 351], "nice": false, "zero": false}, "axis": {"orient": "top", "values": [90,120,150,180,210,240,270,300,330], "tickSize": -5, "labels": false, "title": null}}, "x2": {"datum": 345},
                    "y": {"field": "value", "type": "quantitative", "scale": {"domain": [-350, 50], "nice": false, "zero": false}, "axis": null}}},
      {"data": {"name": "vlines"}, "mark": {"type": "rule", "strokeDash": [1.2, 4.4], "strokeWidth": 1.2, "color": "black"},
       "encoding": {"x": {"field": "day", "type": "quantitative", "scale": {"domain": [90, 351], "nice": false, "zero": false}, "axis": null}, "y": {"datum": 0, "type": "quantitative", "scale": {"domain": [-350, 50], "nice": false, "zero": false}, "axis": null}, "y2": {"datum": -250}}},
      {"data": {"name": "zero"}, "mark": {"type": "rule", "strokeDash": [11, 7], "strokeWidth": 1.5, "color": "#333"},
       "encoding": {"y": {"field": "value", "type": "quantitative", "scale": {"domain": [-350, 50], "nice": false, "zero": false}, "axis": null}}},
      {"data": {"values": [{"label": "2009"}]}, "mark": {"type": "text", "align": "center", "baseline": "middle", "fontSize": 13},
       "encoding": {"x": {"datum": 135, "type": "quantitative", "scale": {"domain": [90, 351], "nice": false, "zero": false}, "axis": null}, "y": {"datum": -32, "type": "quantitative", "scale": {"domain": [-350, 50], "nice": false, "zero": false}, "axis": null}, "text": {"field": "label"}}},
      {"data": {"values": [{"label": "Ozone Loss w r to REPROBUS Tracer"}]}, "mark": {"type": "text", "align": "left", "baseline": "middle", "fontSize": 10.5},
       "encoding": {"x": {"datum": 108, "type": "quantitative", "scale": {"domain": [90, 351], "nice": false, "zero": false}, "axis": null}, "y": {"datum": -310, "type": "quantitative", "scale": {"domain": [-350, 50], "nice": false, "zero": false}, "axis": null}, "text": {"field": "label"}}},
      {"data": {"name": "months"}, "mark": {"type": "text", "align": "center", "baseline": "middle", "fontSize": 8.5},
       "encoding": {"x": {"field": "day", "type": "quantitative", "scale": {"domain": [90, 351], "nice": false, "zero": false}, "axis": null}, "y": {"datum": 26, "type": "quantitative", "scale": {"domain": [-350, 50], "nice": false, "zero": false}, "axis": null}, "text": {"field": "name"}}},
      {"data": {"name": "legend"}, "mark": {"type": "text", "align": "left", "baseline": "middle", "fontSize": 11},
       "encoding": {"x": {"datum": 300, "type": "quantitative", "scale": {"domain": [90, 351], "nice": false, "zero": false}, "axis": null}, "y": {"field": "value", "type": "quantitative", "scale": {"domain": [-350, 50], "nice": false, "zero": false}, "axis": null}, "text": {"field": "series"}, "color": {"field": "series", "type": "nominal", "scale": {"domain": ["GB", "OMI", "SCIA", "MODEL"], "range": ["#FF2A0A", "#6A10C0", "#FFA010", "#22EE66"]}, "legend": null}}},
      {"data": {"name": "R2009"}, "mark": {"type": "line", "strokeWidth": 1.8},
       "encoding": {"x": {"field": "day", "type": "quantitative", "scale": {"domain": [90, 351], "nice": false, "zero": false}, "axis": {"orient": "bottom", "values": [90,120,150,180,210,240,270,300,330], "tickSize": -5, "labels": false, "title": null}},
                    "y": {"field": "value", "type": "quantitative", "scale": {"domain": [-350, 50], "nice": false, "zero": false}, "axis": {"orient": "left", "values": [40,30,20,10,0,-10,-20,-30,-40,-50,-60,-70,-80,-90,-100,-110,-120,-130,-140,-150,-160,-170,-180,-190,-200,-210,-220,-230,-240,-250,-260,-270,-280,-290,-300,-310,-320,-330,-340], "tickSize": {"condition": {"test": "datum.value % 100 === 0", "value": -7}, "value": -3.5}, "labelFontSize": {"condition": {"test": "datum.value % 100 === 0", "value": 12}, "value": 1}, "labelExpr": "datum.value % 100 === 0 ? datum.label : ''", "labelPadding": 17, "title": null}},
                    "color": {"field": "series", "type": "nominal", "scale": {"domain": ["GB", "OMI", "SCIA", "MODEL"], "range": ["#FF2A0A", "#6A10C0", "#FFA010", "#22EE66"]}, "legend": null}}}
     ]},
    {"width": 291, "height": 151, "resolve": {"axis": {"x": "independent", "y": "independent"}},
     "layer": [
      {"data": {"name": "hlinesR"}, "mark": {"type": "rule", "strokeDash": [1.2, 4.4], "strokeWidth": 1.2, "color": "black"},
       "encoding": {"x": {"datum": 105, "type": "quantitative", "scale": {"domain": [90, 351], "nice": false, "zero": false}, "axis": {"orient": "top", "values": [90,120,150,180,210,240,270,300,330], "tickSize": -5, "labels": false, "title": null}}, "x2": {"datum": 345},
                    "y": {"field": "value", "type": "quantitative", "scale": {"domain": [-350, 50], "nice": false, "zero": false}, "axis": null}}},
      {"data": {"name": "vlines"}, "mark": {"type": "rule", "strokeDash": [1.2, 4.4], "strokeWidth": 1.2, "color": "black"},
       "encoding": {"x": {"field": "day", "type": "quantitative", "scale": {"domain": [90, 351], "nice": false, "zero": false}, "axis": null}, "y": {"datum": 0, "type": "quantitative", "scale": {"domain": [-350, 50], "nice": false, "zero": false}, "axis": null}, "y2": {"datum": -250}}},
      {"data": {"name": "zero"}, "mark": {"type": "rule", "strokeDash": [11, 7], "strokeWidth": 1.5, "color": "#333"},
       "encoding": {"y": {"field": "value", "type": "quantitative", "scale": {"domain": [-350, 50], "nice": false, "zero": false}, "axis": null}}},
      {"data": {"values": [{"label": "2008"}]}, "mark": {"type": "text", "align": "center", "baseline": "middle", "fontSize": 13},
       "encoding": {"x": {"datum": 135, "type": "quantitative", "scale": {"domain": [90, 351], "nice": false, "zero": false}, "axis": null}, "y": {"datum": -32, "type": "quantitative", "scale": {"domain": [-350, 50], "nice": false, "zero": false}, "axis": null}, "text": {"field": "label"}}},
      {"data": {"values": [{"label": "Ozone Loss w r to REPROBUS Tracer"}]}, "mark": {"type": "text", "align": "left", "baseline": "middle", "fontSize": 10.5},
       "encoding": {"x": {"datum": 108, "type": "quantitative", "scale": {"domain": [90, 351], "nice": false, "zero": false}, "axis": null}, "y": {"datum": -310, "type": "quantitative", "scale": {"domain": [-350, 50], "nice": false, "zero": false}, "axis": null}, "text": {"field": "label"}}},
      {"data": {"name": "R2008"}, "mark": {"type": "line", "strokeWidth": 1.8},
       "encoding": {"x": {"field": "day", "type": "quantitative", "scale": {"domain": [90, 351], "nice": false, "zero": false}, "axis": {"orient": "bottom", "values": [90,120,150,180,210,240,270,300,330], "tickSize": -5, "labels": false, "title": null}},
                    "y": {"field": "value", "type": "quantitative", "scale": {"domain": [-350, 50], "nice": false, "zero": false}, "axis": {"orient": "left", "values": [40,30,20,10,0,-10,-20,-30,-40,-50,-60,-70,-80,-90,-100,-110,-120,-130,-140,-150,-160,-170,-180,-190,-200,-210,-220,-230,-240,-250,-260,-270,-280,-290,-300,-310,-320,-330,-340], "tickSize": {"condition": {"test": "datum.value % 100 === 0", "value": -7}, "value": -3.5}, "labelFontSize": {"condition": {"test": "datum.value % 100 === 0", "value": 12}, "value": 1}, "labelExpr": "datum.value % 100 === 0 ? datum.label : ''", "labelPadding": 17, "title": null}},
                    "color": {"field": "series", "type": "nominal", "scale": {"domain": ["GB", "OMI", "SCIA", "MODEL"], "range": ["#FF2A0A", "#6A10C0", "#FFA010", "#22EE66"]}, "legend": null}}}
     ]},
    {"width": 291, "height": 151, "resolve": {"axis": {"x": "independent", "y": "independent"}},
     "layer": [
      {"data": {"name": "hlinesR"}, "mark": {"type": "rule", "strokeDash": [1.2, 4.4], "strokeWidth": 1.2, "color": "black"},
       "encoding": {"x": {"datum": 105, "type": "quantitative", "scale": {"domain": [90, 351], "nice": false, "zero": false}, "axis": {"orient": "top", "values": [90,120,150,180,210,240,270,300,330], "tickSize": -5, "labels": false, "title": null}}, "x2": {"datum": 345},
                    "y": {"field": "value", "type": "quantitative", "scale": {"domain": [-350, 50], "nice": false, "zero": false}, "axis": null}}},
      {"data": {"name": "vlines"}, "mark": {"type": "rule", "strokeDash": [1.2, 4.4], "strokeWidth": 1.2, "color": "black"},
       "encoding": {"x": {"field": "day", "type": "quantitative", "scale": {"domain": [90, 351], "nice": false, "zero": false}, "axis": null}, "y": {"datum": 0, "type": "quantitative", "scale": {"domain": [-350, 50], "nice": false, "zero": false}, "axis": null}, "y2": {"datum": -250}}},
      {"data": {"name": "zero"}, "mark": {"type": "rule", "strokeDash": [11, 7], "strokeWidth": 1.5, "color": "#333"},
       "encoding": {"y": {"field": "value", "type": "quantitative", "scale": {"domain": [-350, 50], "nice": false, "zero": false}, "axis": null}}},
      {"data": {"values": [{"label": "2007"}]}, "mark": {"type": "text", "align": "center", "baseline": "middle", "fontSize": 13},
       "encoding": {"x": {"datum": 135, "type": "quantitative", "scale": {"domain": [90, 351], "nice": false, "zero": false}, "axis": null}, "y": {"datum": -32, "type": "quantitative", "scale": {"domain": [-350, 50], "nice": false, "zero": false}, "axis": null}, "text": {"field": "label"}}},
      {"data": {"values": [{"label": "Ozone Loss w r to REPROBUS Tracer"}]}, "mark": {"type": "text", "align": "left", "baseline": "middle", "fontSize": 10.5},
       "encoding": {"x": {"datum": 108, "type": "quantitative", "scale": {"domain": [90, 351], "nice": false, "zero": false}, "axis": null}, "y": {"datum": -310, "type": "quantitative", "scale": {"domain": [-350, 50], "nice": false, "zero": false}, "axis": null}, "text": {"field": "label"}}},
      {"data": {"name": "R2007"}, "mark": {"type": "line", "strokeWidth": 1.8},
       "encoding": {"x": {"field": "day", "type": "quantitative", "scale": {"domain": [90, 351], "nice": false, "zero": false}, "axis": {"orient": "bottom", "values": [90,120,150,180,210,240,270,300,330], "tickSize": -5, "labels": false, "title": null}},
                    "y": {"field": "value", "type": "quantitative", "scale": {"domain": [-350, 50], "nice": false, "zero": false}, "axis": {"orient": "left", "values": [40,30,20,10,0,-10,-20,-30,-40,-50,-60,-70,-80,-90,-100,-110,-120,-130,-140,-150,-160,-170,-180,-190,-200,-210,-220,-230,-240,-250,-260,-270,-280,-290,-300,-310,-320,-330,-340], "tickSize": {"condition": {"test": "datum.value % 100 === 0", "value": -7}, "value": -3.5}, "labelFontSize": {"condition": {"test": "datum.value % 100 === 0", "value": 12}, "value": 1}, "labelExpr": "datum.value % 100 === 0 ? datum.label : ''", "labelPadding": 17, "title": "Ozone Loss (DU)", "titlePadding": 12}},
                    "color": {"field": "series", "type": "nominal", "scale": {"domain": ["GB", "OMI", "SCIA", "MODEL"], "range": ["#FF2A0A", "#6A10C0", "#FFA010", "#22EE66"]}, "legend": null}}}
     ]},
    {"width": 291, "height": 151, "resolve": {"axis": {"x": "independent", "y": "independent"}},
     "layer": [
      {"data": {"name": "hlinesR"}, "mark": {"type": "rule", "strokeDash": [1.2, 4.4], "strokeWidth": 1.2, "color": "black"},
       "encoding": {"x": {"datum": 105, "type": "quantitative", "scale": {"domain": [90, 351], "nice": false, "zero": false}, "axis": {"orient": "top", "values": [90,120,150,180,210,240,270,300,330], "tickSize": -5, "labels": false, "title": null}}, "x2": {"datum": 345},
                    "y": {"field": "value", "type": "quantitative", "scale": {"domain": [-350, 50], "nice": false, "zero": false}, "axis": null}}},
      {"data": {"name": "vlines"}, "mark": {"type": "rule", "strokeDash": [1.2, 4.4], "strokeWidth": 1.2, "color": "black"},
       "encoding": {"x": {"field": "day", "type": "quantitative", "scale": {"domain": [90, 351], "nice": false, "zero": false}, "axis": null}, "y": {"datum": 0, "type": "quantitative", "scale": {"domain": [-350, 50], "nice": false, "zero": false}, "axis": null}, "y2": {"datum": -250}}},
      {"data": {"name": "zero"}, "mark": {"type": "rule", "strokeDash": [11, 7], "strokeWidth": 1.5, "color": "#333"},
       "encoding": {"y": {"field": "value", "type": "quantitative", "scale": {"domain": [-350, 50], "nice": false, "zero": false}, "axis": null}}},
      {"data": {"values": [{"label": "2006"}]}, "mark": {"type": "text", "align": "center", "baseline": "middle", "fontSize": 13},
       "encoding": {"x": {"datum": 135, "type": "quantitative", "scale": {"domain": [90, 351], "nice": false, "zero": false}, "axis": null}, "y": {"datum": -32, "type": "quantitative", "scale": {"domain": [-350, 50], "nice": false, "zero": false}, "axis": null}, "text": {"field": "label"}}},
      {"data": {"values": [{"label": "Ozone Loss w r to REPROBUS Tracer"}]}, "mark": {"type": "text", "align": "left", "baseline": "middle", "fontSize": 10.5},
       "encoding": {"x": {"datum": 108, "type": "quantitative", "scale": {"domain": [90, 351], "nice": false, "zero": false}, "axis": null}, "y": {"datum": -310, "type": "quantitative", "scale": {"domain": [-350, 50], "nice": false, "zero": false}, "axis": null}, "text": {"field": "label"}}},
      {"data": {"name": "R2006"}, "mark": {"type": "line", "strokeWidth": 1.8},
       "encoding": {"x": {"field": "day", "type": "quantitative", "scale": {"domain": [90, 351], "nice": false, "zero": false}, "axis": {"orient": "bottom", "values": [90,120,150,180,210,240,270,300,330], "tickSize": -5, "labels": false, "title": null}},
                    "y": {"field": "value", "type": "quantitative", "scale": {"domain": [-350, 50], "nice": false, "zero": false}, "axis": {"orient": "left", "values": [40,30,20,10,0,-10,-20,-30,-40,-50,-60,-70,-80,-90,-100,-110,-120,-130,-140,-150,-160,-170,-180,-190,-200,-210,-220,-230,-240,-250,-260,-270,-280,-290,-300,-310,-320,-330,-340], "tickSize": {"condition": {"test": "datum.value % 100 === 0", "value": -7}, "value": -3.5}, "labelFontSize": {"condition": {"test": "datum.value % 100 === 0", "value": 12}, "value": 1}, "labelExpr": "datum.value % 100 === 0 ? datum.label : ''", "labelPadding": 17, "title": null}},
                    "color": {"field": "series", "type": "nominal", "scale": {"domain": ["GB", "OMI", "SCIA", "MODEL"], "range": ["#FF2A0A", "#6A10C0", "#FFA010", "#22EE66"]}, "legend": null}}}
     ]},
    {"width": 291, "height": 151, "resolve": {"axis": {"x": "independent", "y": "independent"}},
     "layer": [
      {"data": {"name": "hlinesR"}, "mark": {"type": "rule", "strokeDash": [1.2, 4.4], "strokeWidth": 1.2, "color": "black"},
       "encoding": {"x": {"datum": 105, "type": "quantitative", "scale": {"domain": [90, 351], "nice": false, "zero": false}, "axis": {"orient": "top", "values": [90,120,150,180,210,240,270,300,330], "tickSize": -5, "labels": false, "title": null}}, "x2": {"datum": 345},
                    "y": {"field": "value", "type": "quantitative", "scale": {"domain": [-350, 50], "nice": false, "zero": false}, "axis": null}}},
      {"data": {"name": "vlines"}, "mark": {"type": "rule", "strokeDash": [1.2, 4.4], "strokeWidth": 1.2, "color": "black"},
       "encoding": {"x": {"field": "day", "type": "quantitative", "scale": {"domain": [90, 351], "nice": false, "zero": false}, "axis": null}, "y": {"datum": 0, "type": "quantitative", "scale": {"domain": [-350, 50], "nice": false, "zero": false}, "axis": null}, "y2": {"datum": -250}}},
      {"data": {"name": "zero"}, "mark": {"type": "rule", "strokeDash": [11, 7], "strokeWidth": 1.5, "color": "#333"},
       "encoding": {"y": {"field": "value", "type": "quantitative", "scale": {"domain": [-350, 50], "nice": false, "zero": false}, "axis": null}}},
      {"data": {"values": [{"label": "2005"}]}, "mark": {"type": "text", "align": "center", "baseline": "middle", "fontSize": 13},
       "encoding": {"x": {"datum": 135, "type": "quantitative", "scale": {"domain": [90, 351], "nice": false, "zero": false}, "axis": null}, "y": {"datum": -32, "type": "quantitative", "scale": {"domain": [-350, 50], "nice": false, "zero": false}, "axis": null}, "text": {"field": "label"}}},
      {"data": {"values": [{"label": "Ozone Loss w r to SLIMCAT  Tracer"}]}, "mark": {"type": "text", "align": "left", "baseline": "middle", "fontSize": 10.5},
       "encoding": {"x": {"datum": 108, "type": "quantitative", "scale": {"domain": [90, 351], "nice": false, "zero": false}, "axis": null}, "y": {"datum": -310, "type": "quantitative", "scale": {"domain": [-350, 50], "nice": false, "zero": false}, "axis": null}, "text": {"field": "label"}}},
      {"data": {"name": "R2005"}, "mark": {"type": "line", "strokeWidth": 1.8},
       "encoding": {"x": {"field": "day", "type": "quantitative", "scale": {"domain": [90, 351], "nice": false, "zero": false}, "axis": {"orient": "bottom", "values": [90,120,150,180,210,240,270,300,330], "tickSize": -5, "labelExpr": "(datum.value - 90) % 60 === 0 ? datum.label : ''", "labelFontSize": 14.5, "labelPadding": 13, "title": "Day of year", "titlePadding": 1, "titleX": 150.5}},
                    "y": {"field": "value", "type": "quantitative", "scale": {"domain": [-350, 50], "nice": false, "zero": false}, "axis": {"orient": "left", "values": [40,30,20,10,0,-10,-20,-30,-40,-50,-60,-70,-80,-90,-100,-110,-120,-130,-140,-150,-160,-170,-180,-190,-200,-210,-220,-230,-240,-250,-260,-270,-280,-290,-300,-310,-320,-330,-340], "tickSize": {"condition": {"test": "datum.value % 100 === 0", "value": -7}, "value": -3.5}, "labelFontSize": {"condition": {"test": "datum.value % 100 === 0", "value": 12}, "value": 1}, "labelExpr": "datum.value % 100 === 0 ? datum.label : ''", "labelPadding": 17, "title": null}},
                    "color": {"field": "series", "type": "nominal", "scale": {"domain": ["GB", "OMI", "SCIA", "MODEL"], "range": ["#FF2A0A", "#6A10C0", "#FFA010", "#22EE66"]}, "legend": null}}}
     ]}
  ]}
]
}
